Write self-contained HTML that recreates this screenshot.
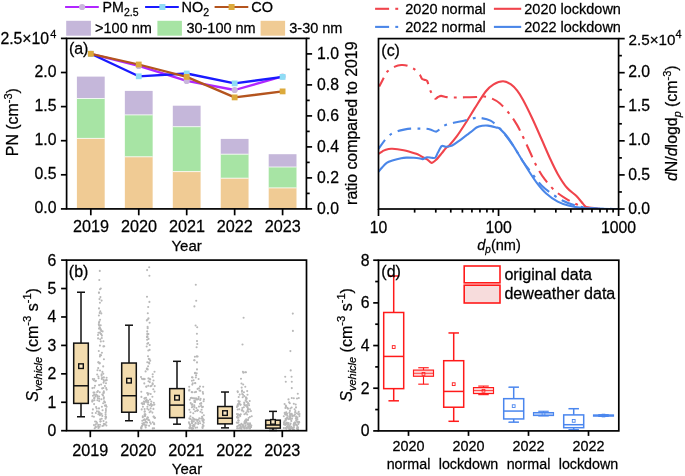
<!DOCTYPE html>
<html><head><meta charset="utf-8"><style>
html,body{margin:0;padding:0;background:#fff;}
svg{display:block;font-family:"Liberation Sans", sans-serif;will-change:transform;}
text{fill:#000;stroke:#000;stroke-width:0.25px;}
</style></head><body>
<svg width="685" height="476" viewBox="0 0 685 476">
<rect width="685" height="476" fill="#fff"/>
<rect x="76.90" y="76.6" width="27.8" height="21.90" fill="#c5b7da"/>
<rect x="76.90" y="98.5" width="27.8" height="39.90" fill="#a7e4a4"/>
<rect x="76.90" y="138.4" width="27.8" height="70.50" fill="#f0cb94"/>
<line x1="76.90" y1="98.50" x2="104.70" y2="98.50" stroke="#fff" stroke-width="0.9" opacity="0.85"/>
<line x1="76.90" y1="138.40" x2="104.70" y2="138.40" stroke="#fff" stroke-width="0.9" opacity="0.85"/>
<rect x="124.85" y="90.9" width="27.8" height="24.00" fill="#c5b7da"/>
<rect x="124.85" y="114.9" width="27.8" height="41.90" fill="#a7e4a4"/>
<rect x="124.85" y="156.8" width="27.8" height="52.10" fill="#f0cb94"/>
<line x1="124.85" y1="114.90" x2="152.65" y2="114.90" stroke="#fff" stroke-width="0.9" opacity="0.85"/>
<line x1="124.85" y1="156.80" x2="152.65" y2="156.80" stroke="#fff" stroke-width="0.9" opacity="0.85"/>
<rect x="172.80" y="105.7" width="27.8" height="21.00" fill="#c5b7da"/>
<rect x="172.80" y="126.7" width="27.8" height="44.90" fill="#a7e4a4"/>
<rect x="172.80" y="171.6" width="27.8" height="37.30" fill="#f0cb94"/>
<line x1="172.80" y1="126.70" x2="200.60" y2="126.70" stroke="#fff" stroke-width="0.9" opacity="0.85"/>
<line x1="172.80" y1="171.60" x2="200.60" y2="171.60" stroke="#fff" stroke-width="0.9" opacity="0.85"/>
<rect x="220.75" y="138.9" width="27.8" height="15.30" fill="#c5b7da"/>
<rect x="220.75" y="154.2" width="27.8" height="24.00" fill="#a7e4a4"/>
<rect x="220.75" y="178.2" width="27.8" height="30.70" fill="#f0cb94"/>
<line x1="220.75" y1="154.20" x2="248.55" y2="154.20" stroke="#fff" stroke-width="0.9" opacity="0.85"/>
<line x1="220.75" y1="178.20" x2="248.55" y2="178.20" stroke="#fff" stroke-width="0.9" opacity="0.85"/>
<rect x="268.70" y="154.2" width="27.8" height="12.80" fill="#c5b7da"/>
<rect x="268.70" y="167.0" width="27.8" height="20.90" fill="#a7e4a4"/>
<rect x="268.70" y="187.9" width="27.8" height="21.00" fill="#f0cb94"/>
<line x1="268.70" y1="167.00" x2="296.50" y2="167.00" stroke="#fff" stroke-width="0.9" opacity="0.85"/>
<line x1="268.70" y1="187.90" x2="296.50" y2="187.90" stroke="#fff" stroke-width="0.9" opacity="0.85"/>
<polyline points="90.80,53.8 138.75,65.9 186.70,80.9 234.65,90.0 282.60,76.5" fill="none" stroke="#b026ff" stroke-width="2.3" stroke-linejoin="round"/>
<circle cx="90.80" cy="53.8" r="3.1" fill="#c9b6dc"/>
<circle cx="138.75" cy="65.9" r="3.1" fill="#c9b6dc"/>
<circle cx="186.70" cy="80.9" r="3.1" fill="#c9b6dc"/>
<circle cx="234.65" cy="90.0" r="3.1" fill="#c9b6dc"/>
<circle cx="282.60" cy="76.5" r="3.1" fill="#c9b6dc"/>
<polyline points="90.80,53.8 138.75,76.3 186.70,73.5 234.65,83.4 282.60,76.9" fill="none" stroke="#1a1aff" stroke-width="2.3" stroke-linejoin="round"/>
<rect x="87.90" y="50.90" width="5.8" height="5.8" fill="#8fdcf5"/>
<rect x="135.85" y="73.40" width="5.8" height="5.8" fill="#8fdcf5"/>
<rect x="183.80" y="70.60" width="5.8" height="5.8" fill="#8fdcf5"/>
<rect x="231.75" y="80.50" width="5.8" height="5.8" fill="#8fdcf5"/>
<rect x="279.70" y="74.00" width="5.8" height="5.8" fill="#8fdcf5"/>
<polyline points="90.80,53.8 138.75,64.5 186.70,76.9 234.65,97.4 282.60,91.4" fill="none" stroke="#b4541e" stroke-width="2.3" stroke-linejoin="round"/>
<rect x="87.90" y="50.90" width="5.8" height="5.8" fill="#dcaa3c"/>
<rect x="135.85" y="61.60" width="5.8" height="5.8" fill="#dcaa3c"/>
<rect x="183.80" y="74.00" width="5.8" height="5.8" fill="#dcaa3c"/>
<rect x="231.75" y="94.50" width="5.8" height="5.8" fill="#dcaa3c"/>
<rect x="279.70" y="88.50" width="5.8" height="5.8" fill="#dcaa3c"/>
<rect x="66.6" y="38.4" width="239.80" height="170.50" fill="none" stroke="#000" stroke-width="1.7"/>
<line x1="60.90" y1="208.90" x2="66.60" y2="208.90" stroke="#000" stroke-width="1.7" />
<text transform="translate(56.50,213.40) scale(1,1.02)" font-size="15.8" text-anchor="end" >0.0</text>
<line x1="60.90" y1="174.80" x2="66.60" y2="174.80" stroke="#000" stroke-width="1.7" />
<text transform="translate(56.50,179.30) scale(1,1.02)" font-size="15.8" text-anchor="end" >0.5</text>
<line x1="60.90" y1="140.70" x2="66.60" y2="140.70" stroke="#000" stroke-width="1.7" />
<text transform="translate(56.50,145.20) scale(1,1.02)" font-size="15.8" text-anchor="end" >1.0</text>
<line x1="60.90" y1="106.60" x2="66.60" y2="106.60" stroke="#000" stroke-width="1.7" />
<text transform="translate(56.50,111.10) scale(1,1.02)" font-size="15.8" text-anchor="end" >1.5</text>
<line x1="60.90" y1="72.50" x2="66.60" y2="72.50" stroke="#000" stroke-width="1.7" />
<text transform="translate(56.50,77.00) scale(1,1.02)" font-size="15.8" text-anchor="end" >2.0</text>
<line x1="60.90" y1="38.40" x2="66.60" y2="38.40" stroke="#000" stroke-width="1.7" />
<text transform="translate(49.10,44.30) scale(1,1.02)" font-size="15.8" text-anchor="end" >2.5×10</text>
<text transform="translate(50.30,37.60) scale(1,1.02)" font-size="11" text-anchor="start" >4</text>
<line x1="306.40" y1="208.90" x2="312.10" y2="208.90" stroke="#000" stroke-width="1.7" />
<text transform="translate(317.00,214.00) scale(1,1.02)" font-size="15.8" text-anchor="start" >0.0</text>
<line x1="306.40" y1="193.40" x2="309.70" y2="193.40" stroke="#000" stroke-width="1.7" />
<line x1="306.40" y1="177.90" x2="312.10" y2="177.90" stroke="#000" stroke-width="1.7" />
<text transform="translate(317.00,183.00) scale(1,1.02)" font-size="15.8" text-anchor="start" >0.2</text>
<line x1="306.40" y1="162.40" x2="309.70" y2="162.40" stroke="#000" stroke-width="1.7" />
<line x1="306.40" y1="146.90" x2="312.10" y2="146.90" stroke="#000" stroke-width="1.7" />
<text transform="translate(317.00,152.00) scale(1,1.02)" font-size="15.8" text-anchor="start" >0.4</text>
<line x1="306.40" y1="131.40" x2="309.70" y2="131.40" stroke="#000" stroke-width="1.7" />
<line x1="306.40" y1="115.90" x2="312.10" y2="115.90" stroke="#000" stroke-width="1.7" />
<text transform="translate(317.00,121.00) scale(1,1.02)" font-size="15.8" text-anchor="start" >0.6</text>
<line x1="306.40" y1="100.40" x2="309.70" y2="100.40" stroke="#000" stroke-width="1.7" />
<line x1="306.40" y1="84.90" x2="312.10" y2="84.90" stroke="#000" stroke-width="1.7" />
<text transform="translate(317.00,90.00) scale(1,1.02)" font-size="15.8" text-anchor="start" >0.8</text>
<line x1="306.40" y1="69.40" x2="309.70" y2="69.40" stroke="#000" stroke-width="1.7" />
<line x1="306.40" y1="53.90" x2="312.10" y2="53.90" stroke="#000" stroke-width="1.7" />
<text transform="translate(317.00,59.00) scale(1,1.02)" font-size="15.8" text-anchor="start" >1.0</text>
<line x1="306.40" y1="38.40" x2="309.70" y2="38.40" stroke="#000" stroke-width="1.7" />
<line x1="90.80" y1="208.90" x2="90.80" y2="215.30" stroke="#000" stroke-width="1.7" />
<text transform="translate(91.00,232.30) scale(1,1.02)" font-size="16.2" text-anchor="middle" >2019</text>
<line x1="138.75" y1="208.90" x2="138.75" y2="215.30" stroke="#000" stroke-width="1.7" />
<text transform="translate(138.95,232.30) scale(1,1.02)" font-size="16.2" text-anchor="middle" >2020</text>
<line x1="186.70" y1="208.90" x2="186.70" y2="215.30" stroke="#000" stroke-width="1.7" />
<text transform="translate(186.90,232.30) scale(1,1.02)" font-size="16.2" text-anchor="middle" >2021</text>
<line x1="234.65" y1="208.90" x2="234.65" y2="215.30" stroke="#000" stroke-width="1.7" />
<text transform="translate(234.85,232.30) scale(1,1.02)" font-size="16.2" text-anchor="middle" >2022</text>
<line x1="282.60" y1="208.90" x2="282.60" y2="215.30" stroke="#000" stroke-width="1.7" />
<text transform="translate(282.80,232.30) scale(1,1.02)" font-size="16.2" text-anchor="middle" >2023</text>
<text transform="translate(186.60,251.20) scale(1,1.02)" font-size="15.0" text-anchor="middle" >Year</text>
<text transform="translate(68.90,53.90) scale(1,1.02)" font-size="16" text-anchor="start" >(a)</text>
<text transform="translate(18.2,122.2) rotate(-90) scale(1,1.02)" font-size="15.9" text-anchor="middle">PN (cm<tspan dy="-6" font-size="11">-3</tspan><tspan dy="6">)</tspan></text>
<text transform="translate(356.9,123.2) rotate(-90) scale(1,1.02)" font-size="15.9" text-anchor="middle">ratio compared to 2019</text>
<line x1="65.10" y1="7.00" x2="98.80" y2="7.00" stroke="#b026ff" stroke-width="2.1" />
<circle cx="82.10" cy="7.0" r="3.1" fill="#c9b6dc"/>
<text transform="translate(102.60,11.90) scale(1,1.02)" font-size="14.2" text-anchor="start" >PM<tspan dy="4" font-size="10.5">2.5</tspan></text>
<line x1="145.10" y1="7.00" x2="178.80" y2="7.00" stroke="#1a1aff" stroke-width="2.1" />
<rect x="159.40" y="4.00" width="6" height="6" fill="#8fdcf5"/>
<text transform="translate(181.50,11.90) scale(1,1.02)" font-size="14.5" text-anchor="start" >NO<tspan dy="4" font-size="10.5">2</tspan></text>
<line x1="214.60" y1="7.00" x2="248.30" y2="7.00" stroke="#b4541e" stroke-width="2.1" />
<rect x="228.60" y="4.00" width="6" height="6" fill="#dcaa3c"/>
<text transform="translate(251.30,11.90) scale(1,1.02)" font-size="14.5" text-anchor="start" >CO</text>
<rect x="66.2" y="20.8" width="24.70" height="14.9" fill="#c5b7da"/>
<text transform="translate(95.10,32.80) scale(1,1.02)" font-size="14.5" text-anchor="start" >&gt;100 nm</text>
<rect x="157.4" y="20.8" width="24.50" height="14.9" fill="#a7e4a4"/>
<text transform="translate(186.40,32.80) scale(1,1.02)" font-size="14.5" text-anchor="start" >30-100 nm</text>
<rect x="260.6" y="20.8" width="24.50" height="14.9" fill="#f0cb94"/>
<text transform="translate(289.30,32.80) scale(1,1.02)" font-size="14.5" text-anchor="start" >3-30 nm</text>
<circle cx="99.8" cy="270.9" r="1.05" fill="#b8b8b8"/>
<circle cx="99.3" cy="280.0" r="1.05" fill="#b8b8b8"/>
<circle cx="100.8" cy="288.5" r="1.05" fill="#b8b8b8"/>
<circle cx="99.0" cy="292.8" r="1.05" fill="#b8b8b8"/>
<circle cx="100.4" cy="297.1" r="1.05" fill="#b8b8b8"/>
<circle cx="99.9" cy="302.8" r="1.05" fill="#b8b8b8"/>
<circle cx="99.0" cy="308.4" r="1.05" fill="#b8b8b8"/>
<circle cx="100.3" cy="311.3" r="1.05" fill="#b8b8b8"/>
<circle cx="98.9" cy="315.5" r="1.05" fill="#b8b8b8"/>
<circle cx="100.1" cy="319.8" r="1.05" fill="#b8b8b8"/>
<circle cx="99.0" cy="322.7" r="1.05" fill="#b8b8b8"/>
<circle cx="99.1" cy="325.5" r="1.05" fill="#b8b8b8"/>
<circle cx="100.1" cy="328.3" r="1.05" fill="#b8b8b8"/>
<circle cx="101.3" cy="313.4" r="1.05" fill="#b8b8b8"/>
<circle cx="99.5" cy="299.1" r="1.05" fill="#b8b8b8"/>
<circle cx="101.6" cy="300.6" r="1.05" fill="#b8b8b8"/>
<circle cx="100.0" cy="289.2" r="1.05" fill="#b8b8b8"/>
<circle cx="98.9" cy="292.6" r="1.05" fill="#b8b8b8"/>
<circle cx="99.7" cy="312.9" r="1.05" fill="#b8b8b8"/>
<circle cx="98.4" cy="332.7" r="1.05" fill="#b8b8b8"/>
<circle cx="101.9" cy="335.6" r="1.05" fill="#b8b8b8"/>
<circle cx="100.7" cy="325.2" r="1.05" fill="#b8b8b8"/>
<circle cx="99.7" cy="327.3" r="1.05" fill="#b8b8b8"/>
<circle cx="98.1" cy="338.4" r="1.05" fill="#b8b8b8"/>
<circle cx="98.8" cy="324.2" r="1.05" fill="#b8b8b8"/>
<circle cx="99.9" cy="332.6" r="1.05" fill="#b8b8b8"/>
<circle cx="100.7" cy="329.4" r="1.05" fill="#b8b8b8"/>
<circle cx="99.3" cy="321.6" r="1.05" fill="#b8b8b8"/>
<circle cx="101.3" cy="334.2" r="1.05" fill="#b8b8b8"/>
<circle cx="100.7" cy="333.7" r="1.05" fill="#b8b8b8"/>
<circle cx="102.6" cy="331.4" r="1.05" fill="#b8b8b8"/>
<circle cx="99.0" cy="328.6" r="1.05" fill="#b8b8b8"/>
<circle cx="98.0" cy="335.0" r="1.05" fill="#b8b8b8"/>
<circle cx="101.8" cy="338.0" r="1.05" fill="#b8b8b8"/>
<circle cx="100.2" cy="339.3" r="1.05" fill="#b8b8b8"/>
<circle cx="101.3" cy="331.0" r="1.05" fill="#b8b8b8"/>
<circle cx="100.7" cy="329.8" r="1.05" fill="#b8b8b8"/>
<circle cx="98.8" cy="351.0" r="1.05" fill="#b8b8b8"/>
<circle cx="101.1" cy="355.2" r="1.05" fill="#b8b8b8"/>
<circle cx="99.9" cy="345.6" r="1.05" fill="#b8b8b8"/>
<circle cx="103.9" cy="359.2" r="1.05" fill="#b8b8b8"/>
<circle cx="101.6" cy="374.4" r="1.05" fill="#b8b8b8"/>
<circle cx="101.9" cy="352.8" r="1.05" fill="#b8b8b8"/>
<circle cx="104.2" cy="346.3" r="1.05" fill="#b8b8b8"/>
<circle cx="98.6" cy="362.4" r="1.05" fill="#b8b8b8"/>
<circle cx="101.6" cy="375.8" r="1.05" fill="#b8b8b8"/>
<circle cx="100.0" cy="370.5" r="1.05" fill="#b8b8b8"/>
<circle cx="97.2" cy="374.5" r="1.05" fill="#b8b8b8"/>
<circle cx="102.4" cy="371.9" r="1.05" fill="#b8b8b8"/>
<circle cx="98.3" cy="362.2" r="1.05" fill="#b8b8b8"/>
<circle cx="103.3" cy="373.7" r="1.05" fill="#b8b8b8"/>
<circle cx="99.9" cy="356.4" r="1.05" fill="#b8b8b8"/>
<circle cx="103.4" cy="346.4" r="1.05" fill="#b8b8b8"/>
<circle cx="103.2" cy="366.4" r="1.05" fill="#b8b8b8"/>
<circle cx="99.6" cy="363.4" r="1.05" fill="#b8b8b8"/>
<circle cx="103.4" cy="341.3" r="1.05" fill="#b8b8b8"/>
<circle cx="97.5" cy="370.2" r="1.05" fill="#b8b8b8"/>
<circle cx="98.2" cy="368.1" r="1.05" fill="#b8b8b8"/>
<circle cx="100.2" cy="354.9" r="1.05" fill="#b8b8b8"/>
<circle cx="98.4" cy="376.5" r="1.05" fill="#b8b8b8"/>
<circle cx="99.7" cy="363.0" r="1.05" fill="#b8b8b8"/>
<circle cx="100.8" cy="341.4" r="1.05" fill="#b8b8b8"/>
<circle cx="102.2" cy="388.4" r="1.05" fill="#b8b8b8"/>
<circle cx="101.1" cy="384.5" r="1.05" fill="#b8b8b8"/>
<circle cx="92.8" cy="379.1" r="1.05" fill="#b8b8b8"/>
<circle cx="103.5" cy="379.7" r="1.05" fill="#b8b8b8"/>
<circle cx="103.8" cy="391.4" r="1.05" fill="#b8b8b8"/>
<circle cx="97.9" cy="398.3" r="1.05" fill="#b8b8b8"/>
<circle cx="101.4" cy="399.3" r="1.05" fill="#b8b8b8"/>
<circle cx="93.0" cy="395.8" r="1.05" fill="#b8b8b8"/>
<circle cx="94.4" cy="392.6" r="1.05" fill="#b8b8b8"/>
<circle cx="92.8" cy="400.8" r="1.05" fill="#b8b8b8"/>
<circle cx="94.2" cy="398.4" r="1.05" fill="#b8b8b8"/>
<circle cx="97.4" cy="400.2" r="1.05" fill="#b8b8b8"/>
<circle cx="104.9" cy="386.0" r="1.05" fill="#b8b8b8"/>
<circle cx="94.2" cy="394.7" r="1.05" fill="#b8b8b8"/>
<circle cx="97.1" cy="392.0" r="1.05" fill="#b8b8b8"/>
<circle cx="93.8" cy="380.3" r="1.05" fill="#b8b8b8"/>
<circle cx="106.7" cy="389.6" r="1.05" fill="#b8b8b8"/>
<circle cx="99.2" cy="398.8" r="1.05" fill="#b8b8b8"/>
<circle cx="93.5" cy="392.6" r="1.05" fill="#b8b8b8"/>
<circle cx="95.9" cy="380.8" r="1.05" fill="#b8b8b8"/>
<circle cx="94.4" cy="400.3" r="1.05" fill="#b8b8b8"/>
<circle cx="106.1" cy="388.1" r="1.05" fill="#b8b8b8"/>
<circle cx="94.2" cy="387.7" r="1.05" fill="#b8b8b8"/>
<circle cx="92.4" cy="388.1" r="1.05" fill="#b8b8b8"/>
<circle cx="106.5" cy="380.0" r="1.05" fill="#b8b8b8"/>
<circle cx="102.3" cy="394.5" r="1.05" fill="#b8b8b8"/>
<circle cx="97.4" cy="396.8" r="1.05" fill="#b8b8b8"/>
<circle cx="103.4" cy="388.0" r="1.05" fill="#b8b8b8"/>
<circle cx="103.5" cy="392.9" r="1.05" fill="#b8b8b8"/>
<circle cx="95.3" cy="381.2" r="1.05" fill="#b8b8b8"/>
<circle cx="106.6" cy="380.2" r="1.05" fill="#b8b8b8"/>
<circle cx="103.9" cy="381.1" r="1.05" fill="#b8b8b8"/>
<circle cx="103.0" cy="395.4" r="1.05" fill="#b8b8b8"/>
<circle cx="99.7" cy="392.3" r="1.05" fill="#b8b8b8"/>
<circle cx="92.4" cy="400.2" r="1.05" fill="#b8b8b8"/>
<circle cx="96.1" cy="394.6" r="1.05" fill="#b8b8b8"/>
<circle cx="102.2" cy="377.7" r="1.05" fill="#b8b8b8"/>
<circle cx="98.6" cy="378.2" r="1.05" fill="#b8b8b8"/>
<circle cx="106.6" cy="377.8" r="1.05" fill="#b8b8b8"/>
<circle cx="97.4" cy="395.5" r="1.05" fill="#b8b8b8"/>
<circle cx="95.4" cy="396.1" r="1.05" fill="#b8b8b8"/>
<circle cx="95.0" cy="385.8" r="1.05" fill="#b8b8b8"/>
<circle cx="105.3" cy="380.5" r="1.05" fill="#b8b8b8"/>
<circle cx="99.1" cy="385.1" r="1.05" fill="#b8b8b8"/>
<circle cx="103.8" cy="398.8" r="1.05" fill="#b8b8b8"/>
<circle cx="101.8" cy="378.9" r="1.05" fill="#b8b8b8"/>
<circle cx="103.6" cy="382.7" r="1.05" fill="#b8b8b8"/>
<circle cx="99.1" cy="396.5" r="1.05" fill="#b8b8b8"/>
<circle cx="103.7" cy="392.8" r="1.05" fill="#b8b8b8"/>
<circle cx="103.9" cy="377.4" r="1.05" fill="#b8b8b8"/>
<circle cx="97.9" cy="391.1" r="1.05" fill="#b8b8b8"/>
<circle cx="106.0" cy="383.3" r="1.05" fill="#b8b8b8"/>
<circle cx="94.5" cy="397.8" r="1.05" fill="#b8b8b8"/>
<circle cx="94.2" cy="379.0" r="1.05" fill="#b8b8b8"/>
<circle cx="103.9" cy="397.3" r="1.05" fill="#b8b8b8"/>
<circle cx="104.2" cy="401.4" r="1.05" fill="#b8b8b8"/>
<circle cx="101.7" cy="418.8" r="1.05" fill="#b8b8b8"/>
<circle cx="100.1" cy="424.8" r="1.05" fill="#b8b8b8"/>
<circle cx="92.2" cy="401.6" r="1.05" fill="#b8b8b8"/>
<circle cx="101.6" cy="413.9" r="1.05" fill="#b8b8b8"/>
<circle cx="105.8" cy="416.5" r="1.05" fill="#b8b8b8"/>
<circle cx="104.9" cy="405.6" r="1.05" fill="#b8b8b8"/>
<circle cx="95.1" cy="421.5" r="1.05" fill="#b8b8b8"/>
<circle cx="96.3" cy="421.8" r="1.05" fill="#b8b8b8"/>
<circle cx="100.7" cy="421.3" r="1.05" fill="#b8b8b8"/>
<circle cx="98.2" cy="424.8" r="1.05" fill="#b8b8b8"/>
<circle cx="105.5" cy="418.7" r="1.05" fill="#b8b8b8"/>
<circle cx="98.8" cy="412.3" r="1.05" fill="#b8b8b8"/>
<circle cx="105.4" cy="416.8" r="1.05" fill="#b8b8b8"/>
<circle cx="105.6" cy="414.6" r="1.05" fill="#b8b8b8"/>
<circle cx="99.9" cy="414.0" r="1.05" fill="#b8b8b8"/>
<circle cx="92.3" cy="416.3" r="1.05" fill="#b8b8b8"/>
<circle cx="94.7" cy="428.3" r="1.05" fill="#b8b8b8"/>
<circle cx="103.8" cy="423.7" r="1.05" fill="#b8b8b8"/>
<circle cx="99.0" cy="408.4" r="1.05" fill="#b8b8b8"/>
<circle cx="100.2" cy="419.4" r="1.05" fill="#b8b8b8"/>
<circle cx="99.7" cy="413.1" r="1.05" fill="#b8b8b8"/>
<circle cx="103.6" cy="425.5" r="1.05" fill="#b8b8b8"/>
<circle cx="100.3" cy="421.6" r="1.05" fill="#b8b8b8"/>
<circle cx="96.1" cy="407.1" r="1.05" fill="#b8b8b8"/>
<circle cx="99.5" cy="412.9" r="1.05" fill="#b8b8b8"/>
<circle cx="103.2" cy="403.3" r="1.05" fill="#b8b8b8"/>
<circle cx="98.6" cy="411.5" r="1.05" fill="#b8b8b8"/>
<circle cx="99.5" cy="414.3" r="1.05" fill="#b8b8b8"/>
<circle cx="102.3" cy="415.9" r="1.05" fill="#b8b8b8"/>
<circle cx="99.9" cy="415.2" r="1.05" fill="#b8b8b8"/>
<circle cx="105.9" cy="409.1" r="1.05" fill="#b8b8b8"/>
<circle cx="105.0" cy="402.4" r="1.05" fill="#b8b8b8"/>
<circle cx="95.8" cy="413.0" r="1.05" fill="#b8b8b8"/>
<circle cx="106.0" cy="405.3" r="1.05" fill="#b8b8b8"/>
<circle cx="94.0" cy="425.1" r="1.05" fill="#b8b8b8"/>
<circle cx="98.5" cy="426.4" r="1.05" fill="#b8b8b8"/>
<circle cx="95.6" cy="426.4" r="1.05" fill="#b8b8b8"/>
<circle cx="101.9" cy="406.8" r="1.05" fill="#b8b8b8"/>
<circle cx="105.3" cy="424.2" r="1.05" fill="#b8b8b8"/>
<circle cx="102.6" cy="410.2" r="1.05" fill="#b8b8b8"/>
<circle cx="94.1" cy="404.1" r="1.05" fill="#b8b8b8"/>
<circle cx="106.3" cy="422.4" r="1.05" fill="#b8b8b8"/>
<circle cx="106.1" cy="417.4" r="1.05" fill="#b8b8b8"/>
<circle cx="99.2" cy="401.1" r="1.05" fill="#b8b8b8"/>
<circle cx="104.3" cy="424.0" r="1.05" fill="#b8b8b8"/>
<circle cx="98.4" cy="414.2" r="1.05" fill="#b8b8b8"/>
<circle cx="97.0" cy="423.0" r="1.05" fill="#b8b8b8"/>
<circle cx="96.7" cy="408.5" r="1.05" fill="#b8b8b8"/>
<circle cx="92.3" cy="413.1" r="1.05" fill="#b8b8b8"/>
<circle cx="98.5" cy="427.9" r="1.05" fill="#b8b8b8"/>
<circle cx="96.9" cy="411.2" r="1.05" fill="#b8b8b8"/>
<circle cx="99.6" cy="426.7" r="1.05" fill="#b8b8b8"/>
<circle cx="106.6" cy="406.7" r="1.05" fill="#b8b8b8"/>
<circle cx="106.4" cy="425.5" r="1.05" fill="#b8b8b8"/>
<circle cx="95.9" cy="427.3" r="1.05" fill="#b8b8b8"/>
<circle cx="103.5" cy="421.0" r="1.05" fill="#b8b8b8"/>
<circle cx="93.9" cy="416.8" r="1.05" fill="#b8b8b8"/>
<circle cx="105.5" cy="405.8" r="1.05" fill="#b8b8b8"/>
<circle cx="95.8" cy="424.3" r="1.05" fill="#b8b8b8"/>
<circle cx="105.6" cy="412.7" r="1.05" fill="#b8b8b8"/>
<circle cx="102.4" cy="426.0" r="1.05" fill="#b8b8b8"/>
<circle cx="92.9" cy="409.4" r="1.05" fill="#b8b8b8"/>
<circle cx="98.3" cy="426.4" r="1.05" fill="#b8b8b8"/>
<circle cx="105.9" cy="410.9" r="1.05" fill="#b8b8b8"/>
<circle cx="149.2" cy="267.2" r="1.05" fill="#b8b8b8"/>
<circle cx="147.1" cy="270.1" r="1.05" fill="#b8b8b8"/>
<circle cx="149.4" cy="275.7" r="1.05" fill="#b8b8b8"/>
<circle cx="147.0" cy="296.8" r="1.05" fill="#b8b8b8"/>
<circle cx="149.4" cy="301.9" r="1.05" fill="#b8b8b8"/>
<circle cx="148.2" cy="307.0" r="1.05" fill="#b8b8b8"/>
<circle cx="147.8" cy="313.3" r="1.05" fill="#b8b8b8"/>
<circle cx="148.5" cy="318.4" r="1.05" fill="#b8b8b8"/>
<circle cx="149.6" cy="322.7" r="1.05" fill="#b8b8b8"/>
<circle cx="147.6" cy="326.9" r="1.05" fill="#b8b8b8"/>
<circle cx="147.2" cy="331.2" r="1.05" fill="#b8b8b8"/>
<circle cx="148.4" cy="334.0" r="1.05" fill="#b8b8b8"/>
<circle cx="147.5" cy="336.9" r="1.05" fill="#b8b8b8"/>
<circle cx="147.1" cy="339.7" r="1.05" fill="#b8b8b8"/>
<circle cx="147.3" cy="343.7" r="1.05" fill="#b8b8b8"/>
<circle cx="147.4" cy="334.8" r="1.05" fill="#b8b8b8"/>
<circle cx="147.7" cy="319.5" r="1.05" fill="#b8b8b8"/>
<circle cx="147.7" cy="328.3" r="1.05" fill="#b8b8b8"/>
<circle cx="147.3" cy="333.6" r="1.05" fill="#b8b8b8"/>
<circle cx="146.9" cy="336.9" r="1.05" fill="#b8b8b8"/>
<circle cx="146.8" cy="320.4" r="1.05" fill="#b8b8b8"/>
<circle cx="148.5" cy="338.9" r="1.05" fill="#b8b8b8"/>
<circle cx="148.2" cy="343.1" r="1.05" fill="#b8b8b8"/>
<circle cx="146.7" cy="346.5" r="1.05" fill="#b8b8b8"/>
<circle cx="148.0" cy="356.2" r="1.05" fill="#b8b8b8"/>
<circle cx="149.6" cy="359.3" r="1.05" fill="#b8b8b8"/>
<circle cx="148.3" cy="350.5" r="1.05" fill="#b8b8b8"/>
<circle cx="150.2" cy="360.8" r="1.05" fill="#b8b8b8"/>
<circle cx="149.6" cy="349.9" r="1.05" fill="#b8b8b8"/>
<circle cx="148.8" cy="358.9" r="1.05" fill="#b8b8b8"/>
<circle cx="147.7" cy="369.4" r="1.05" fill="#b8b8b8"/>
<circle cx="146.8" cy="368.9" r="1.05" fill="#b8b8b8"/>
<circle cx="149.3" cy="363.4" r="1.05" fill="#b8b8b8"/>
<circle cx="147.0" cy="368.5" r="1.05" fill="#b8b8b8"/>
<circle cx="149.7" cy="345.0" r="1.05" fill="#b8b8b8"/>
<circle cx="149.0" cy="362.6" r="1.05" fill="#b8b8b8"/>
<circle cx="147.3" cy="362.2" r="1.05" fill="#b8b8b8"/>
<circle cx="148.1" cy="366.3" r="1.05" fill="#b8b8b8"/>
<circle cx="147.2" cy="393.0" r="1.05" fill="#b8b8b8"/>
<circle cx="154.5" cy="371.8" r="1.05" fill="#b8b8b8"/>
<circle cx="148.7" cy="393.5" r="1.05" fill="#b8b8b8"/>
<circle cx="154.5" cy="391.6" r="1.05" fill="#b8b8b8"/>
<circle cx="146.0" cy="400.8" r="1.05" fill="#b8b8b8"/>
<circle cx="146.3" cy="386.7" r="1.05" fill="#b8b8b8"/>
<circle cx="148.0" cy="394.8" r="1.05" fill="#b8b8b8"/>
<circle cx="148.1" cy="400.7" r="1.05" fill="#b8b8b8"/>
<circle cx="144.7" cy="398.2" r="1.05" fill="#b8b8b8"/>
<circle cx="146.6" cy="399.6" r="1.05" fill="#b8b8b8"/>
<circle cx="141.3" cy="391.8" r="1.05" fill="#b8b8b8"/>
<circle cx="144.3" cy="383.4" r="1.05" fill="#b8b8b8"/>
<circle cx="148.4" cy="378.4" r="1.05" fill="#b8b8b8"/>
<circle cx="150.2" cy="379.5" r="1.05" fill="#b8b8b8"/>
<circle cx="153.3" cy="389.2" r="1.05" fill="#b8b8b8"/>
<circle cx="145.6" cy="371.4" r="1.05" fill="#b8b8b8"/>
<circle cx="143.1" cy="379.2" r="1.05" fill="#b8b8b8"/>
<circle cx="150.0" cy="399.5" r="1.05" fill="#b8b8b8"/>
<circle cx="152.7" cy="374.2" r="1.05" fill="#b8b8b8"/>
<circle cx="149.8" cy="378.9" r="1.05" fill="#b8b8b8"/>
<circle cx="152.4" cy="396.7" r="1.05" fill="#b8b8b8"/>
<circle cx="148.3" cy="385.8" r="1.05" fill="#b8b8b8"/>
<circle cx="152.7" cy="376.8" r="1.05" fill="#b8b8b8"/>
<circle cx="152.6" cy="383.4" r="1.05" fill="#b8b8b8"/>
<circle cx="153.5" cy="380.5" r="1.05" fill="#b8b8b8"/>
<circle cx="150.7" cy="394.0" r="1.05" fill="#b8b8b8"/>
<circle cx="141.4" cy="396.9" r="1.05" fill="#b8b8b8"/>
<circle cx="146.0" cy="397.7" r="1.05" fill="#b8b8b8"/>
<circle cx="152.7" cy="384.2" r="1.05" fill="#b8b8b8"/>
<circle cx="149.8" cy="382.1" r="1.05" fill="#b8b8b8"/>
<circle cx="150.5" cy="386.2" r="1.05" fill="#b8b8b8"/>
<circle cx="141.0" cy="377.0" r="1.05" fill="#b8b8b8"/>
<circle cx="151.5" cy="385.8" r="1.05" fill="#b8b8b8"/>
<circle cx="148.5" cy="381.2" r="1.05" fill="#b8b8b8"/>
<circle cx="141.9" cy="378.8" r="1.05" fill="#b8b8b8"/>
<circle cx="144.5" cy="398.6" r="1.05" fill="#b8b8b8"/>
<circle cx="144.7" cy="379.1" r="1.05" fill="#b8b8b8"/>
<circle cx="143.9" cy="378.8" r="1.05" fill="#b8b8b8"/>
<circle cx="154.7" cy="386.1" r="1.05" fill="#b8b8b8"/>
<circle cx="146.4" cy="386.5" r="1.05" fill="#b8b8b8"/>
<circle cx="150.6" cy="408.4" r="1.05" fill="#b8b8b8"/>
<circle cx="149.6" cy="412.2" r="1.05" fill="#b8b8b8"/>
<circle cx="142.1" cy="425.7" r="1.05" fill="#b8b8b8"/>
<circle cx="144.6" cy="409.1" r="1.05" fill="#b8b8b8"/>
<circle cx="145.3" cy="414.4" r="1.05" fill="#b8b8b8"/>
<circle cx="141.2" cy="427.5" r="1.05" fill="#b8b8b8"/>
<circle cx="144.8" cy="411.3" r="1.05" fill="#b8b8b8"/>
<circle cx="150.7" cy="411.2" r="1.05" fill="#b8b8b8"/>
<circle cx="145.1" cy="415.9" r="1.05" fill="#b8b8b8"/>
<circle cx="147.5" cy="417.4" r="1.05" fill="#b8b8b8"/>
<circle cx="142.7" cy="404.3" r="1.05" fill="#b8b8b8"/>
<circle cx="143.8" cy="401.6" r="1.05" fill="#b8b8b8"/>
<circle cx="154.1" cy="428.2" r="1.05" fill="#b8b8b8"/>
<circle cx="147.4" cy="406.7" r="1.05" fill="#b8b8b8"/>
<circle cx="154.6" cy="417.9" r="1.05" fill="#b8b8b8"/>
<circle cx="144.8" cy="424.2" r="1.05" fill="#b8b8b8"/>
<circle cx="154.2" cy="424.2" r="1.05" fill="#b8b8b8"/>
<circle cx="149.1" cy="425.8" r="1.05" fill="#b8b8b8"/>
<circle cx="148.3" cy="402.4" r="1.05" fill="#b8b8b8"/>
<circle cx="142.9" cy="406.7" r="1.05" fill="#b8b8b8"/>
<circle cx="148.1" cy="404.5" r="1.05" fill="#b8b8b8"/>
<circle cx="150.8" cy="423.7" r="1.05" fill="#b8b8b8"/>
<circle cx="153.6" cy="416.8" r="1.05" fill="#b8b8b8"/>
<circle cx="141.3" cy="428.4" r="1.05" fill="#b8b8b8"/>
<circle cx="147.9" cy="417.8" r="1.05" fill="#b8b8b8"/>
<circle cx="145.2" cy="425.8" r="1.05" fill="#b8b8b8"/>
<circle cx="145.8" cy="421.5" r="1.05" fill="#b8b8b8"/>
<circle cx="152.8" cy="428.4" r="1.05" fill="#b8b8b8"/>
<circle cx="151.5" cy="406.1" r="1.05" fill="#b8b8b8"/>
<circle cx="142.7" cy="403.3" r="1.05" fill="#b8b8b8"/>
<circle cx="151.0" cy="404.1" r="1.05" fill="#b8b8b8"/>
<circle cx="145.1" cy="420.0" r="1.05" fill="#b8b8b8"/>
<circle cx="146.5" cy="400.9" r="1.05" fill="#b8b8b8"/>
<circle cx="149.2" cy="420.3" r="1.05" fill="#b8b8b8"/>
<circle cx="147.0" cy="422.6" r="1.05" fill="#b8b8b8"/>
<circle cx="141.7" cy="426.6" r="1.05" fill="#b8b8b8"/>
<circle cx="152.7" cy="422.3" r="1.05" fill="#b8b8b8"/>
<circle cx="154.1" cy="423.2" r="1.05" fill="#b8b8b8"/>
<circle cx="144.7" cy="416.1" r="1.05" fill="#b8b8b8"/>
<circle cx="143.7" cy="420.0" r="1.05" fill="#b8b8b8"/>
<circle cx="154.4" cy="404.6" r="1.05" fill="#b8b8b8"/>
<circle cx="152.4" cy="412.6" r="1.05" fill="#b8b8b8"/>
<circle cx="153.8" cy="402.8" r="1.05" fill="#b8b8b8"/>
<circle cx="148.7" cy="409.8" r="1.05" fill="#b8b8b8"/>
<circle cx="141.7" cy="409.4" r="1.05" fill="#b8b8b8"/>
<circle cx="147.3" cy="408.8" r="1.05" fill="#b8b8b8"/>
<circle cx="150.0" cy="422.3" r="1.05" fill="#b8b8b8"/>
<circle cx="141.7" cy="403.3" r="1.05" fill="#b8b8b8"/>
<circle cx="142.8" cy="417.2" r="1.05" fill="#b8b8b8"/>
<circle cx="145.8" cy="422.0" r="1.05" fill="#b8b8b8"/>
<circle cx="151.3" cy="401.6" r="1.05" fill="#b8b8b8"/>
<circle cx="144.6" cy="411.8" r="1.05" fill="#b8b8b8"/>
<circle cx="145.2" cy="414.8" r="1.05" fill="#b8b8b8"/>
<circle cx="146.5" cy="425.2" r="1.05" fill="#b8b8b8"/>
<circle cx="143.3" cy="424.2" r="1.05" fill="#b8b8b8"/>
<circle cx="153.7" cy="416.5" r="1.05" fill="#b8b8b8"/>
<circle cx="144.1" cy="403.9" r="1.05" fill="#b8b8b8"/>
<circle cx="155.0" cy="417.8" r="1.05" fill="#b8b8b8"/>
<circle cx="143.0" cy="424.6" r="1.05" fill="#b8b8b8"/>
<circle cx="142.3" cy="420.8" r="1.05" fill="#b8b8b8"/>
<circle cx="142.3" cy="423.5" r="1.05" fill="#b8b8b8"/>
<circle cx="144.6" cy="414.4" r="1.05" fill="#b8b8b8"/>
<circle cx="153.4" cy="408.9" r="1.05" fill="#b8b8b8"/>
<circle cx="146.8" cy="418.9" r="1.05" fill="#b8b8b8"/>
<circle cx="148.3" cy="419.9" r="1.05" fill="#b8b8b8"/>
<circle cx="145.7" cy="427.4" r="1.05" fill="#b8b8b8"/>
<circle cx="144.9" cy="401.9" r="1.05" fill="#b8b8b8"/>
<circle cx="142.8" cy="416.3" r="1.05" fill="#b8b8b8"/>
<circle cx="149.8" cy="405.3" r="1.05" fill="#b8b8b8"/>
<circle cx="144.0" cy="422.7" r="1.05" fill="#b8b8b8"/>
<circle cx="144.5" cy="419.2" r="1.05" fill="#b8b8b8"/>
<circle cx="147.2" cy="402.4" r="1.05" fill="#b8b8b8"/>
<circle cx="152.9" cy="405.0" r="1.05" fill="#b8b8b8"/>
<circle cx="141.3" cy="428.0" r="1.05" fill="#b8b8b8"/>
<circle cx="150.9" cy="404.3" r="1.05" fill="#b8b8b8"/>
<circle cx="195.8" cy="284.8" r="1.05" fill="#b8b8b8"/>
<circle cx="196.2" cy="300.8" r="1.05" fill="#b8b8b8"/>
<circle cx="194.4" cy="306.4" r="1.05" fill="#b8b8b8"/>
<circle cx="195.6" cy="325.5" r="1.05" fill="#b8b8b8"/>
<circle cx="197.2" cy="327.2" r="1.05" fill="#b8b8b8"/>
<circle cx="196.9" cy="333.7" r="1.05" fill="#b8b8b8"/>
<circle cx="197.0" cy="341.1" r="1.05" fill="#b8b8b8"/>
<circle cx="197.3" cy="344.0" r="1.05" fill="#b8b8b8"/>
<circle cx="194.9" cy="373.3" r="1.05" fill="#b8b8b8"/>
<circle cx="194.5" cy="360.3" r="1.05" fill="#b8b8b8"/>
<circle cx="196.6" cy="347.2" r="1.05" fill="#b8b8b8"/>
<circle cx="196.8" cy="356.4" r="1.05" fill="#b8b8b8"/>
<circle cx="197.0" cy="362.4" r="1.05" fill="#b8b8b8"/>
<circle cx="196.1" cy="375.4" r="1.05" fill="#b8b8b8"/>
<circle cx="197.0" cy="369.4" r="1.05" fill="#b8b8b8"/>
<circle cx="197.6" cy="356.5" r="1.05" fill="#b8b8b8"/>
<circle cx="195.1" cy="372.7" r="1.05" fill="#b8b8b8"/>
<circle cx="194.9" cy="356.8" r="1.05" fill="#b8b8b8"/>
<circle cx="196.7" cy="373.2" r="1.05" fill="#b8b8b8"/>
<circle cx="194.2" cy="360.3" r="1.05" fill="#b8b8b8"/>
<circle cx="197.6" cy="388.9" r="1.05" fill="#b8b8b8"/>
<circle cx="192.3" cy="384.6" r="1.05" fill="#b8b8b8"/>
<circle cx="189.1" cy="390.6" r="1.05" fill="#b8b8b8"/>
<circle cx="195.8" cy="377.5" r="1.05" fill="#b8b8b8"/>
<circle cx="198.6" cy="379.0" r="1.05" fill="#b8b8b8"/>
<circle cx="196.0" cy="391.9" r="1.05" fill="#b8b8b8"/>
<circle cx="192.6" cy="377.5" r="1.05" fill="#b8b8b8"/>
<circle cx="199.5" cy="390.5" r="1.05" fill="#b8b8b8"/>
<circle cx="189.2" cy="386.7" r="1.05" fill="#b8b8b8"/>
<circle cx="199.0" cy="388.2" r="1.05" fill="#b8b8b8"/>
<circle cx="192.8" cy="383.3" r="1.05" fill="#b8b8b8"/>
<circle cx="202.8" cy="392.1" r="1.05" fill="#b8b8b8"/>
<circle cx="189.4" cy="389.9" r="1.05" fill="#b8b8b8"/>
<circle cx="195.2" cy="383.0" r="1.05" fill="#b8b8b8"/>
<circle cx="191.9" cy="380.7" r="1.05" fill="#b8b8b8"/>
<circle cx="200.0" cy="386.5" r="1.05" fill="#b8b8b8"/>
<circle cx="192.0" cy="377.3" r="1.05" fill="#b8b8b8"/>
<circle cx="193.6" cy="380.3" r="1.05" fill="#b8b8b8"/>
<circle cx="192.4" cy="392.2" r="1.05" fill="#b8b8b8"/>
<circle cx="200.3" cy="390.7" r="1.05" fill="#b8b8b8"/>
<circle cx="203.2" cy="386.7" r="1.05" fill="#b8b8b8"/>
<circle cx="191.7" cy="392.1" r="1.05" fill="#b8b8b8"/>
<circle cx="195.2" cy="383.3" r="1.05" fill="#b8b8b8"/>
<circle cx="203.1" cy="393.7" r="1.05" fill="#b8b8b8"/>
<circle cx="194.8" cy="392.3" r="1.05" fill="#b8b8b8"/>
<circle cx="203.5" cy="425.9" r="1.05" fill="#b8b8b8"/>
<circle cx="189.7" cy="427.6" r="1.05" fill="#b8b8b8"/>
<circle cx="194.8" cy="400.7" r="1.05" fill="#b8b8b8"/>
<circle cx="202.2" cy="407.2" r="1.05" fill="#b8b8b8"/>
<circle cx="203.9" cy="399.4" r="1.05" fill="#b8b8b8"/>
<circle cx="193.8" cy="424.9" r="1.05" fill="#b8b8b8"/>
<circle cx="202.9" cy="406.7" r="1.05" fill="#b8b8b8"/>
<circle cx="189.4" cy="409.7" r="1.05" fill="#b8b8b8"/>
<circle cx="194.6" cy="419.6" r="1.05" fill="#b8b8b8"/>
<circle cx="193.9" cy="425.3" r="1.05" fill="#b8b8b8"/>
<circle cx="188.9" cy="422.3" r="1.05" fill="#b8b8b8"/>
<circle cx="194.2" cy="398.4" r="1.05" fill="#b8b8b8"/>
<circle cx="190.8" cy="398.1" r="1.05" fill="#b8b8b8"/>
<circle cx="192.0" cy="420.1" r="1.05" fill="#b8b8b8"/>
<circle cx="201.2" cy="403.7" r="1.05" fill="#b8b8b8"/>
<circle cx="195.4" cy="427.8" r="1.05" fill="#b8b8b8"/>
<circle cx="196.0" cy="419.6" r="1.05" fill="#b8b8b8"/>
<circle cx="202.7" cy="424.7" r="1.05" fill="#b8b8b8"/>
<circle cx="194.4" cy="400.8" r="1.05" fill="#b8b8b8"/>
<circle cx="189.4" cy="418.4" r="1.05" fill="#b8b8b8"/>
<circle cx="201.1" cy="405.9" r="1.05" fill="#b8b8b8"/>
<circle cx="189.5" cy="428.0" r="1.05" fill="#b8b8b8"/>
<circle cx="189.8" cy="399.8" r="1.05" fill="#b8b8b8"/>
<circle cx="192.8" cy="406.6" r="1.05" fill="#b8b8b8"/>
<circle cx="202.4" cy="420.6" r="1.05" fill="#b8b8b8"/>
<circle cx="193.0" cy="398.3" r="1.05" fill="#b8b8b8"/>
<circle cx="198.2" cy="422.8" r="1.05" fill="#b8b8b8"/>
<circle cx="199.6" cy="421.3" r="1.05" fill="#b8b8b8"/>
<circle cx="193.0" cy="428.4" r="1.05" fill="#b8b8b8"/>
<circle cx="200.2" cy="400.0" r="1.05" fill="#b8b8b8"/>
<circle cx="198.4" cy="398.9" r="1.05" fill="#b8b8b8"/>
<circle cx="189.3" cy="423.6" r="1.05" fill="#b8b8b8"/>
<circle cx="196.0" cy="398.4" r="1.05" fill="#b8b8b8"/>
<circle cx="203.2" cy="419.2" r="1.05" fill="#b8b8b8"/>
<circle cx="192.7" cy="417.8" r="1.05" fill="#b8b8b8"/>
<circle cx="196.3" cy="399.5" r="1.05" fill="#b8b8b8"/>
<circle cx="191.6" cy="404.5" r="1.05" fill="#b8b8b8"/>
<circle cx="200.0" cy="403.7" r="1.05" fill="#b8b8b8"/>
<circle cx="200.5" cy="411.8" r="1.05" fill="#b8b8b8"/>
<circle cx="193.8" cy="421.2" r="1.05" fill="#b8b8b8"/>
<circle cx="194.3" cy="405.3" r="1.05" fill="#b8b8b8"/>
<circle cx="190.1" cy="424.6" r="1.05" fill="#b8b8b8"/>
<circle cx="200.2" cy="423.2" r="1.05" fill="#b8b8b8"/>
<circle cx="189.9" cy="428.0" r="1.05" fill="#b8b8b8"/>
<circle cx="197.2" cy="421.0" r="1.05" fill="#b8b8b8"/>
<circle cx="203.6" cy="401.3" r="1.05" fill="#b8b8b8"/>
<circle cx="203.7" cy="422.8" r="1.05" fill="#b8b8b8"/>
<circle cx="190.2" cy="426.9" r="1.05" fill="#b8b8b8"/>
<circle cx="196.4" cy="408.0" r="1.05" fill="#b8b8b8"/>
<circle cx="195.6" cy="423.6" r="1.05" fill="#b8b8b8"/>
<circle cx="195.2" cy="411.3" r="1.05" fill="#b8b8b8"/>
<circle cx="199.0" cy="406.6" r="1.05" fill="#b8b8b8"/>
<circle cx="201.6" cy="409.7" r="1.05" fill="#b8b8b8"/>
<circle cx="190.7" cy="403.0" r="1.05" fill="#b8b8b8"/>
<circle cx="193.3" cy="413.2" r="1.05" fill="#b8b8b8"/>
<circle cx="194.5" cy="407.0" r="1.05" fill="#b8b8b8"/>
<circle cx="191.9" cy="423.2" r="1.05" fill="#b8b8b8"/>
<circle cx="192.6" cy="425.6" r="1.05" fill="#b8b8b8"/>
<circle cx="202.2" cy="412.8" r="1.05" fill="#b8b8b8"/>
<circle cx="193.8" cy="418.9" r="1.05" fill="#b8b8b8"/>
<circle cx="203.8" cy="415.2" r="1.05" fill="#b8b8b8"/>
<circle cx="192.4" cy="404.3" r="1.05" fill="#b8b8b8"/>
<circle cx="198.7" cy="397.0" r="1.05" fill="#b8b8b8"/>
<circle cx="190.4" cy="416.3" r="1.05" fill="#b8b8b8"/>
<circle cx="201.2" cy="403.0" r="1.05" fill="#b8b8b8"/>
<circle cx="202.6" cy="427.9" r="1.05" fill="#b8b8b8"/>
<circle cx="193.3" cy="426.4" r="1.05" fill="#b8b8b8"/>
<circle cx="191.7" cy="397.7" r="1.05" fill="#b8b8b8"/>
<circle cx="197.6" cy="399.4" r="1.05" fill="#b8b8b8"/>
<circle cx="194.5" cy="402.0" r="1.05" fill="#b8b8b8"/>
<circle cx="195.6" cy="422.9" r="1.05" fill="#b8b8b8"/>
<circle cx="200.6" cy="398.8" r="1.05" fill="#b8b8b8"/>
<circle cx="190.5" cy="412.2" r="1.05" fill="#b8b8b8"/>
<circle cx="198.2" cy="424.0" r="1.05" fill="#b8b8b8"/>
<circle cx="194.4" cy="425.9" r="1.05" fill="#b8b8b8"/>
<circle cx="192.0" cy="423.0" r="1.05" fill="#b8b8b8"/>
<circle cx="197.9" cy="410.2" r="1.05" fill="#b8b8b8"/>
<circle cx="192.0" cy="428.3" r="1.05" fill="#b8b8b8"/>
<circle cx="193.8" cy="409.2" r="1.05" fill="#b8b8b8"/>
<circle cx="191.7" cy="421.4" r="1.05" fill="#b8b8b8"/>
<circle cx="192.0" cy="404.8" r="1.05" fill="#b8b8b8"/>
<circle cx="197.1" cy="427.5" r="1.05" fill="#b8b8b8"/>
<circle cx="190.4" cy="418.9" r="1.05" fill="#b8b8b8"/>
<circle cx="197.2" cy="410.6" r="1.05" fill="#b8b8b8"/>
<circle cx="190.3" cy="425.4" r="1.05" fill="#b8b8b8"/>
<circle cx="199.3" cy="418.4" r="1.05" fill="#b8b8b8"/>
<circle cx="193.1" cy="421.5" r="1.05" fill="#b8b8b8"/>
<circle cx="203.2" cy="421.4" r="1.05" fill="#b8b8b8"/>
<circle cx="197.4" cy="420.1" r="1.05" fill="#b8b8b8"/>
<circle cx="195.1" cy="402.1" r="1.05" fill="#b8b8b8"/>
<circle cx="203.8" cy="419.9" r="1.05" fill="#b8b8b8"/>
<circle cx="191.9" cy="407.3" r="1.05" fill="#b8b8b8"/>
<circle cx="192.0" cy="428.4" r="1.05" fill="#b8b8b8"/>
<circle cx="202.4" cy="418.0" r="1.05" fill="#b8b8b8"/>
<circle cx="201.2" cy="418.6" r="1.05" fill="#b8b8b8"/>
<circle cx="202.1" cy="416.8" r="1.05" fill="#b8b8b8"/>
<circle cx="191.3" cy="428.3" r="1.05" fill="#b8b8b8"/>
<circle cx="197.2" cy="410.6" r="1.05" fill="#b8b8b8"/>
<circle cx="202.5" cy="427.1" r="1.05" fill="#b8b8b8"/>
<circle cx="198.2" cy="419.7" r="1.05" fill="#b8b8b8"/>
<circle cx="243.6" cy="317.8" r="1.05" fill="#b8b8b8"/>
<circle cx="242.5" cy="344.5" r="1.05" fill="#b8b8b8"/>
<circle cx="242.9" cy="371.8" r="1.05" fill="#b8b8b8"/>
<circle cx="243.4" cy="372.8" r="1.05" fill="#b8b8b8"/>
<circle cx="241.0" cy="378.7" r="1.05" fill="#b8b8b8"/>
<circle cx="245.1" cy="372.3" r="1.05" fill="#b8b8b8"/>
<circle cx="241.5" cy="383.5" r="1.05" fill="#b8b8b8"/>
<circle cx="246.0" cy="372.2" r="1.05" fill="#b8b8b8"/>
<circle cx="243.2" cy="384.5" r="1.05" fill="#b8b8b8"/>
<circle cx="247.5" cy="394.8" r="1.05" fill="#b8b8b8"/>
<circle cx="247.2" cy="391.1" r="1.05" fill="#b8b8b8"/>
<circle cx="246.4" cy="398.3" r="1.05" fill="#b8b8b8"/>
<circle cx="245.9" cy="397.4" r="1.05" fill="#b8b8b8"/>
<circle cx="241.7" cy="387.6" r="1.05" fill="#b8b8b8"/>
<circle cx="246.4" cy="398.0" r="1.05" fill="#b8b8b8"/>
<circle cx="239.7" cy="394.6" r="1.05" fill="#b8b8b8"/>
<circle cx="243.0" cy="394.8" r="1.05" fill="#b8b8b8"/>
<circle cx="238.7" cy="397.0" r="1.05" fill="#b8b8b8"/>
<circle cx="245.3" cy="386.8" r="1.05" fill="#b8b8b8"/>
<circle cx="237.8" cy="392.1" r="1.05" fill="#b8b8b8"/>
<circle cx="245.6" cy="400.2" r="1.05" fill="#b8b8b8"/>
<circle cx="246.5" cy="399.0" r="1.05" fill="#b8b8b8"/>
<circle cx="243.9" cy="392.2" r="1.05" fill="#b8b8b8"/>
<circle cx="244.2" cy="396.1" r="1.05" fill="#b8b8b8"/>
<circle cx="241.9" cy="391.7" r="1.05" fill="#b8b8b8"/>
<circle cx="242.0" cy="390.5" r="1.05" fill="#b8b8b8"/>
<circle cx="242.2" cy="394.0" r="1.05" fill="#b8b8b8"/>
<circle cx="237.6" cy="391.2" r="1.05" fill="#b8b8b8"/>
<circle cx="242.7" cy="397.2" r="1.05" fill="#b8b8b8"/>
<circle cx="248.3" cy="409.4" r="1.05" fill="#b8b8b8"/>
<circle cx="243.7" cy="426.3" r="1.05" fill="#b8b8b8"/>
<circle cx="243.9" cy="427.5" r="1.05" fill="#b8b8b8"/>
<circle cx="238.7" cy="420.6" r="1.05" fill="#b8b8b8"/>
<circle cx="238.2" cy="420.3" r="1.05" fill="#b8b8b8"/>
<circle cx="244.5" cy="428.2" r="1.05" fill="#b8b8b8"/>
<circle cx="246.3" cy="427.8" r="1.05" fill="#b8b8b8"/>
<circle cx="247.8" cy="409.5" r="1.05" fill="#b8b8b8"/>
<circle cx="244.5" cy="428.1" r="1.05" fill="#b8b8b8"/>
<circle cx="244.4" cy="422.0" r="1.05" fill="#b8b8b8"/>
<circle cx="251.1" cy="427.0" r="1.05" fill="#b8b8b8"/>
<circle cx="249.7" cy="401.0" r="1.05" fill="#b8b8b8"/>
<circle cx="247.8" cy="408.1" r="1.05" fill="#b8b8b8"/>
<circle cx="239.7" cy="401.6" r="1.05" fill="#b8b8b8"/>
<circle cx="244.2" cy="402.6" r="1.05" fill="#b8b8b8"/>
<circle cx="250.5" cy="426.6" r="1.05" fill="#b8b8b8"/>
<circle cx="248.6" cy="403.7" r="1.05" fill="#b8b8b8"/>
<circle cx="237.8" cy="422.7" r="1.05" fill="#b8b8b8"/>
<circle cx="248.1" cy="426.7" r="1.05" fill="#b8b8b8"/>
<circle cx="250.2" cy="424.4" r="1.05" fill="#b8b8b8"/>
<circle cx="249.0" cy="426.9" r="1.05" fill="#b8b8b8"/>
<circle cx="244.3" cy="404.1" r="1.05" fill="#b8b8b8"/>
<circle cx="239.9" cy="424.7" r="1.05" fill="#b8b8b8"/>
<circle cx="244.4" cy="423.5" r="1.05" fill="#b8b8b8"/>
<circle cx="237.4" cy="426.3" r="1.05" fill="#b8b8b8"/>
<circle cx="239.2" cy="403.4" r="1.05" fill="#b8b8b8"/>
<circle cx="247.0" cy="405.1" r="1.05" fill="#b8b8b8"/>
<circle cx="239.3" cy="409.2" r="1.05" fill="#b8b8b8"/>
<circle cx="238.5" cy="417.8" r="1.05" fill="#b8b8b8"/>
<circle cx="246.3" cy="422.5" r="1.05" fill="#b8b8b8"/>
<circle cx="249.9" cy="417.0" r="1.05" fill="#b8b8b8"/>
<circle cx="245.5" cy="405.6" r="1.05" fill="#b8b8b8"/>
<circle cx="238.4" cy="401.1" r="1.05" fill="#b8b8b8"/>
<circle cx="246.2" cy="421.6" r="1.05" fill="#b8b8b8"/>
<circle cx="248.8" cy="424.7" r="1.05" fill="#b8b8b8"/>
<circle cx="251.7" cy="416.3" r="1.05" fill="#b8b8b8"/>
<circle cx="242.2" cy="410.0" r="1.05" fill="#b8b8b8"/>
<circle cx="243.4" cy="426.4" r="1.05" fill="#b8b8b8"/>
<circle cx="248.0" cy="428.1" r="1.05" fill="#b8b8b8"/>
<circle cx="249.1" cy="424.9" r="1.05" fill="#b8b8b8"/>
<circle cx="246.4" cy="401.5" r="1.05" fill="#b8b8b8"/>
<circle cx="245.6" cy="413.5" r="1.05" fill="#b8b8b8"/>
<circle cx="241.5" cy="428.4" r="1.05" fill="#b8b8b8"/>
<circle cx="237.3" cy="426.8" r="1.05" fill="#b8b8b8"/>
<circle cx="246.0" cy="420.6" r="1.05" fill="#b8b8b8"/>
<circle cx="244.5" cy="405.1" r="1.05" fill="#b8b8b8"/>
<circle cx="238.8" cy="425.4" r="1.05" fill="#b8b8b8"/>
<circle cx="246.6" cy="428.3" r="1.05" fill="#b8b8b8"/>
<circle cx="236.8" cy="422.6" r="1.05" fill="#b8b8b8"/>
<circle cx="238.4" cy="422.5" r="1.05" fill="#b8b8b8"/>
<circle cx="240.2" cy="416.1" r="1.05" fill="#b8b8b8"/>
<circle cx="245.6" cy="425.9" r="1.05" fill="#b8b8b8"/>
<circle cx="246.2" cy="419.4" r="1.05" fill="#b8b8b8"/>
<circle cx="238.8" cy="403.4" r="1.05" fill="#b8b8b8"/>
<circle cx="240.5" cy="426.8" r="1.05" fill="#b8b8b8"/>
<circle cx="238.2" cy="414.4" r="1.05" fill="#b8b8b8"/>
<circle cx="249.9" cy="409.3" r="1.05" fill="#b8b8b8"/>
<circle cx="242.8" cy="424.7" r="1.05" fill="#b8b8b8"/>
<circle cx="237.0" cy="414.1" r="1.05" fill="#b8b8b8"/>
<circle cx="245.2" cy="422.7" r="1.05" fill="#b8b8b8"/>
<circle cx="246.5" cy="420.3" r="1.05" fill="#b8b8b8"/>
<circle cx="250.9" cy="411.1" r="1.05" fill="#b8b8b8"/>
<circle cx="240.5" cy="404.7" r="1.05" fill="#b8b8b8"/>
<circle cx="237.5" cy="417.7" r="1.05" fill="#b8b8b8"/>
<circle cx="242.9" cy="425.2" r="1.05" fill="#b8b8b8"/>
<circle cx="237.7" cy="409.5" r="1.05" fill="#b8b8b8"/>
<circle cx="237.0" cy="417.1" r="1.05" fill="#b8b8b8"/>
<circle cx="250.9" cy="426.9" r="1.05" fill="#b8b8b8"/>
<circle cx="239.8" cy="415.3" r="1.05" fill="#b8b8b8"/>
<circle cx="244.4" cy="414.3" r="1.05" fill="#b8b8b8"/>
<circle cx="249.0" cy="426.4" r="1.05" fill="#b8b8b8"/>
<circle cx="241.4" cy="423.9" r="1.05" fill="#b8b8b8"/>
<circle cx="237.5" cy="405.3" r="1.05" fill="#b8b8b8"/>
<circle cx="248.5" cy="411.7" r="1.05" fill="#b8b8b8"/>
<circle cx="236.9" cy="407.0" r="1.05" fill="#b8b8b8"/>
<circle cx="248.0" cy="419.7" r="1.05" fill="#b8b8b8"/>
<circle cx="247.9" cy="420.0" r="1.05" fill="#b8b8b8"/>
<circle cx="240.2" cy="427.5" r="1.05" fill="#b8b8b8"/>
<circle cx="240.3" cy="428.2" r="1.05" fill="#b8b8b8"/>
<circle cx="241.8" cy="410.5" r="1.05" fill="#b8b8b8"/>
<circle cx="247.2" cy="407.0" r="1.05" fill="#b8b8b8"/>
<circle cx="247.5" cy="424.6" r="1.05" fill="#b8b8b8"/>
<circle cx="245.1" cy="420.5" r="1.05" fill="#b8b8b8"/>
<circle cx="248.6" cy="418.0" r="1.05" fill="#b8b8b8"/>
<circle cx="240.8" cy="414.2" r="1.05" fill="#b8b8b8"/>
<circle cx="251.3" cy="425.6" r="1.05" fill="#b8b8b8"/>
<circle cx="250.0" cy="428.4" r="1.05" fill="#b8b8b8"/>
<circle cx="240.7" cy="425.3" r="1.05" fill="#b8b8b8"/>
<circle cx="248.0" cy="403.1" r="1.05" fill="#b8b8b8"/>
<circle cx="248.0" cy="423.3" r="1.05" fill="#b8b8b8"/>
<circle cx="250.0" cy="423.2" r="1.05" fill="#b8b8b8"/>
<circle cx="240.4" cy="404.6" r="1.05" fill="#b8b8b8"/>
<circle cx="246.3" cy="412.5" r="1.05" fill="#b8b8b8"/>
<circle cx="246.8" cy="401.7" r="1.05" fill="#b8b8b8"/>
<circle cx="243.8" cy="407.2" r="1.05" fill="#b8b8b8"/>
<circle cx="247.3" cy="406.5" r="1.05" fill="#b8b8b8"/>
<circle cx="243.4" cy="411.4" r="1.05" fill="#b8b8b8"/>
<circle cx="245.4" cy="423.7" r="1.05" fill="#b8b8b8"/>
<circle cx="240.0" cy="414.9" r="1.05" fill="#b8b8b8"/>
<circle cx="238.0" cy="404.5" r="1.05" fill="#b8b8b8"/>
<circle cx="239.0" cy="428.3" r="1.05" fill="#b8b8b8"/>
<circle cx="238.4" cy="403.7" r="1.05" fill="#b8b8b8"/>
<circle cx="242.0" cy="427.0" r="1.05" fill="#b8b8b8"/>
<circle cx="237.2" cy="428.2" r="1.05" fill="#b8b8b8"/>
<circle cx="247.2" cy="414.5" r="1.05" fill="#b8b8b8"/>
<circle cx="247.3" cy="411.0" r="1.05" fill="#b8b8b8"/>
<circle cx="237.8" cy="415.9" r="1.05" fill="#b8b8b8"/>
<circle cx="242.3" cy="408.0" r="1.05" fill="#b8b8b8"/>
<circle cx="249.1" cy="405.2" r="1.05" fill="#b8b8b8"/>
<circle cx="237.8" cy="406.1" r="1.05" fill="#b8b8b8"/>
<circle cx="292.8" cy="313.6" r="1.05" fill="#b8b8b8"/>
<circle cx="292.9" cy="330.9" r="1.05" fill="#b8b8b8"/>
<circle cx="290.4" cy="351.1" r="1.05" fill="#b8b8b8"/>
<circle cx="290.7" cy="370.4" r="1.05" fill="#b8b8b8"/>
<circle cx="286.0" cy="406.2" r="1.05" fill="#b8b8b8"/>
<circle cx="297.0" cy="398.5" r="1.05" fill="#b8b8b8"/>
<circle cx="293.8" cy="398.3" r="1.05" fill="#b8b8b8"/>
<circle cx="293.8" cy="403.7" r="1.05" fill="#b8b8b8"/>
<circle cx="285.8" cy="405.6" r="1.05" fill="#b8b8b8"/>
<circle cx="295.7" cy="404.5" r="1.05" fill="#b8b8b8"/>
<circle cx="289.1" cy="402.3" r="1.05" fill="#b8b8b8"/>
<circle cx="284.6" cy="404.0" r="1.05" fill="#b8b8b8"/>
<circle cx="288.5" cy="399.4" r="1.05" fill="#b8b8b8"/>
<circle cx="289.8" cy="403.3" r="1.05" fill="#b8b8b8"/>
<circle cx="299.2" cy="422.4" r="1.05" fill="#b8b8b8"/>
<circle cx="297.4" cy="419.4" r="1.05" fill="#b8b8b8"/>
<circle cx="284.3" cy="424.4" r="1.05" fill="#b8b8b8"/>
<circle cx="290.8" cy="414.7" r="1.05" fill="#b8b8b8"/>
<circle cx="289.3" cy="416.9" r="1.05" fill="#b8b8b8"/>
<circle cx="292.4" cy="427.9" r="1.05" fill="#b8b8b8"/>
<circle cx="297.6" cy="429.2" r="1.05" fill="#b8b8b8"/>
<circle cx="296.9" cy="428.4" r="1.05" fill="#b8b8b8"/>
<circle cx="283.8" cy="428.0" r="1.05" fill="#b8b8b8"/>
<circle cx="296.0" cy="407.4" r="1.05" fill="#b8b8b8"/>
<circle cx="283.9" cy="422.7" r="1.05" fill="#b8b8b8"/>
<circle cx="291.7" cy="413.9" r="1.05" fill="#b8b8b8"/>
<circle cx="286.8" cy="422.6" r="1.05" fill="#b8b8b8"/>
<circle cx="289.4" cy="412.7" r="1.05" fill="#b8b8b8"/>
<circle cx="288.0" cy="408.7" r="1.05" fill="#b8b8b8"/>
<circle cx="288.3" cy="427.9" r="1.05" fill="#b8b8b8"/>
<circle cx="295.0" cy="422.5" r="1.05" fill="#b8b8b8"/>
<circle cx="285.6" cy="418.9" r="1.05" fill="#b8b8b8"/>
<circle cx="285.1" cy="414.2" r="1.05" fill="#b8b8b8"/>
<circle cx="295.0" cy="414.2" r="1.05" fill="#b8b8b8"/>
<circle cx="293.8" cy="425.6" r="1.05" fill="#b8b8b8"/>
<circle cx="290.2" cy="424.8" r="1.05" fill="#b8b8b8"/>
<circle cx="298.0" cy="429.2" r="1.05" fill="#b8b8b8"/>
<circle cx="298.0" cy="429.5" r="1.05" fill="#b8b8b8"/>
<circle cx="287.1" cy="427.2" r="1.05" fill="#b8b8b8"/>
<circle cx="298.2" cy="422.4" r="1.05" fill="#b8b8b8"/>
<circle cx="289.9" cy="410.9" r="1.05" fill="#b8b8b8"/>
<circle cx="287.5" cy="423.4" r="1.05" fill="#b8b8b8"/>
<circle cx="292.3" cy="415.3" r="1.05" fill="#b8b8b8"/>
<circle cx="295.8" cy="418.6" r="1.05" fill="#b8b8b8"/>
<circle cx="289.4" cy="426.1" r="1.05" fill="#b8b8b8"/>
<circle cx="286.3" cy="412.3" r="1.05" fill="#b8b8b8"/>
<circle cx="294.4" cy="415.7" r="1.05" fill="#b8b8b8"/>
<circle cx="286.5" cy="423.9" r="1.05" fill="#b8b8b8"/>
<circle cx="296.2" cy="420.5" r="1.05" fill="#b8b8b8"/>
<circle cx="285.8" cy="423.4" r="1.05" fill="#b8b8b8"/>
<circle cx="298.0" cy="427.6" r="1.05" fill="#b8b8b8"/>
<circle cx="286.9" cy="426.6" r="1.05" fill="#b8b8b8"/>
<circle cx="295.1" cy="412.3" r="1.05" fill="#b8b8b8"/>
<circle cx="286.3" cy="428.6" r="1.05" fill="#b8b8b8"/>
<circle cx="287.8" cy="426.1" r="1.05" fill="#b8b8b8"/>
<circle cx="292.2" cy="428.5" r="1.05" fill="#b8b8b8"/>
<circle cx="289.0" cy="428.2" r="1.05" fill="#b8b8b8"/>
<circle cx="299.4" cy="416.1" r="1.05" fill="#b8b8b8"/>
<circle cx="285.4" cy="408.0" r="1.05" fill="#b8b8b8"/>
<circle cx="285.4" cy="425.0" r="1.05" fill="#b8b8b8"/>
<circle cx="299.5" cy="414.0" r="1.05" fill="#b8b8b8"/>
<circle cx="295.5" cy="424.0" r="1.05" fill="#b8b8b8"/>
<circle cx="286.9" cy="418.8" r="1.05" fill="#b8b8b8"/>
<circle cx="285.5" cy="428.0" r="1.05" fill="#b8b8b8"/>
<circle cx="290.0" cy="429.5" r="1.05" fill="#b8b8b8"/>
<circle cx="290.2" cy="414.1" r="1.05" fill="#b8b8b8"/>
<circle cx="294.9" cy="422.5" r="1.05" fill="#b8b8b8"/>
<circle cx="293.9" cy="423.3" r="1.05" fill="#b8b8b8"/>
<circle cx="286.1" cy="419.8" r="1.05" fill="#b8b8b8"/>
<circle cx="290.3" cy="415.7" r="1.05" fill="#b8b8b8"/>
<circle cx="298.3" cy="424.1" r="1.05" fill="#b8b8b8"/>
<circle cx="293.0" cy="415.5" r="1.05" fill="#b8b8b8"/>
<circle cx="290.5" cy="427.7" r="1.05" fill="#b8b8b8"/>
<circle cx="295.4" cy="411.0" r="1.05" fill="#b8b8b8"/>
<circle cx="296.2" cy="417.0" r="1.05" fill="#b8b8b8"/>
<circle cx="297.4" cy="417.6" r="1.05" fill="#b8b8b8"/>
<circle cx="294.1" cy="423.5" r="1.05" fill="#b8b8b8"/>
<circle cx="288.8" cy="419.1" r="1.05" fill="#b8b8b8"/>
<circle cx="285.4" cy="424.3" r="1.05" fill="#b8b8b8"/>
<circle cx="296.3" cy="416.6" r="1.05" fill="#b8b8b8"/>
<circle cx="293.9" cy="427.4" r="1.05" fill="#b8b8b8"/>
<circle cx="290.6" cy="423.5" r="1.05" fill="#b8b8b8"/>
<circle cx="293.7" cy="424.5" r="1.05" fill="#b8b8b8"/>
<circle cx="294.6" cy="409.2" r="1.05" fill="#b8b8b8"/>
<circle cx="286.7" cy="418.4" r="1.05" fill="#b8b8b8"/>
<circle cx="296.3" cy="424.9" r="1.05" fill="#b8b8b8"/>
<circle cx="291.6" cy="407.5" r="1.05" fill="#b8b8b8"/>
<circle cx="284.4" cy="421.4" r="1.05" fill="#b8b8b8"/>
<circle cx="286.4" cy="414.4" r="1.05" fill="#b8b8b8"/>
<circle cx="298.8" cy="422.0" r="1.05" fill="#b8b8b8"/>
<circle cx="285.4" cy="420.6" r="1.05" fill="#b8b8b8"/>
<circle cx="292.5" cy="416.5" r="1.05" fill="#b8b8b8"/>
<circle cx="292.0" cy="418.8" r="1.05" fill="#b8b8b8"/>
<circle cx="297.1" cy="421.9" r="1.05" fill="#b8b8b8"/>
<circle cx="290.4" cy="408.5" r="1.05" fill="#b8b8b8"/>
<circle cx="287.2" cy="417.5" r="1.05" fill="#b8b8b8"/>
<circle cx="290.1" cy="415.0" r="1.05" fill="#b8b8b8"/>
<circle cx="285.8" cy="407.1" r="1.05" fill="#b8b8b8"/>
<circle cx="289.5" cy="429.4" r="1.05" fill="#b8b8b8"/>
<circle cx="288.2" cy="424.7" r="1.05" fill="#b8b8b8"/>
<circle cx="284.0" cy="424.3" r="1.05" fill="#b8b8b8"/>
<circle cx="290.5" cy="417.1" r="1.05" fill="#b8b8b8"/>
<circle cx="289.4" cy="427.2" r="1.05" fill="#b8b8b8"/>
<circle cx="287.4" cy="415.7" r="1.05" fill="#b8b8b8"/>
<circle cx="298.8" cy="421.8" r="1.05" fill="#b8b8b8"/>
<circle cx="287.3" cy="413.8" r="1.05" fill="#b8b8b8"/>
<circle cx="290.1" cy="427.9" r="1.05" fill="#b8b8b8"/>
<circle cx="285.9" cy="414.6" r="1.05" fill="#b8b8b8"/>
<circle cx="296.8" cy="418.9" r="1.05" fill="#b8b8b8"/>
<circle cx="291.3" cy="420.9" r="1.05" fill="#b8b8b8"/>
<circle cx="287.4" cy="407.9" r="1.05" fill="#b8b8b8"/>
<circle cx="289.5" cy="418.8" r="1.05" fill="#b8b8b8"/>
<circle cx="296.9" cy="413.3" r="1.05" fill="#b8b8b8"/>
<circle cx="291.3" cy="426.7" r="1.05" fill="#b8b8b8"/>
<circle cx="292.6" cy="428.9" r="1.05" fill="#b8b8b8"/>
<circle cx="297.1" cy="425.6" r="1.05" fill="#b8b8b8"/>
<circle cx="297.4" cy="427.1" r="1.05" fill="#b8b8b8"/>
<circle cx="289.8" cy="427.3" r="1.05" fill="#b8b8b8"/>
<circle cx="290.6" cy="428.2" r="1.05" fill="#b8b8b8"/>
<circle cx="283.8" cy="416.3" r="1.05" fill="#b8b8b8"/>
<circle cx="288.3" cy="427.5" r="1.05" fill="#b8b8b8"/>
<circle cx="288.6" cy="423.0" r="1.05" fill="#b8b8b8"/>
<circle cx="290.7" cy="418.9" r="1.05" fill="#b8b8b8"/>
<circle cx="294.3" cy="425.5" r="1.05" fill="#b8b8b8"/>
<circle cx="298.7" cy="411.9" r="1.05" fill="#b8b8b8"/>
<circle cx="284.7" cy="412.9" r="1.05" fill="#b8b8b8"/>
<circle cx="298.3" cy="414.3" r="1.05" fill="#b8b8b8"/>
<circle cx="286.0" cy="412.7" r="1.05" fill="#b8b8b8"/>
<circle cx="293.9" cy="429.5" r="1.05" fill="#b8b8b8"/>
<circle cx="285.2" cy="376.7" r="1.05" fill="#b8b8b8"/>
<circle cx="291.6" cy="376.7" r="1.05" fill="#b8b8b8"/>
<circle cx="285.8" cy="381.8" r="1.05" fill="#b8b8b8"/>
<circle cx="291.8" cy="381.8" r="1.05" fill="#b8b8b8"/>
<circle cx="291.8" cy="388.1" r="1.05" fill="#b8b8b8"/>
<circle cx="297.8" cy="393.7" r="1.05" fill="#b8b8b8"/>
<circle cx="298.8" cy="398.0" r="1.05" fill="#b8b8b8"/>
<circle cx="291.8" cy="398.0" r="1.05" fill="#b8b8b8"/>
<line x1="81.00" y1="292.23" x2="81.00" y2="416.77" stroke="#111" stroke-width="1.5" />
<line x1="77.00" y1="292.23" x2="85.00" y2="292.23" stroke="#111" stroke-width="1.5" />
<line x1="77.00" y1="416.77" x2="85.00" y2="416.77" stroke="#111" stroke-width="1.5" />
<rect x="73.70" y="343.13" width="14.6" height="60.28" fill="#f3dcae" stroke="#111" stroke-width="1.5"/>
<line x1="73.70" y1="385.78" x2="88.30" y2="385.78" stroke="#111" stroke-width="1.5" />
<rect x="78.70" y="363.86" width="4.6" height="4.6" fill="#fbe9c6" stroke="#111" stroke-width="1.4"/>
<line x1="129.00" y1="325.21" x2="129.00" y2="420.75" stroke="#111" stroke-width="1.5" />
<line x1="125.00" y1="325.21" x2="133.00" y2="325.21" stroke="#111" stroke-width="1.5" />
<line x1="125.00" y1="420.75" x2="133.00" y2="420.75" stroke="#111" stroke-width="1.5" />
<rect x="121.70" y="363.03" width="14.6" height="49.19" fill="#f3dcae" stroke="#111" stroke-width="1.5"/>
<line x1="121.70" y1="395.73" x2="136.30" y2="395.73" stroke="#111" stroke-width="1.5" />
<rect x="126.70" y="378.36" width="4.6" height="4.6" fill="#fbe9c6" stroke="#111" stroke-width="1.4"/>
<line x1="177.00" y1="361.32" x2="177.00" y2="424.16" stroke="#111" stroke-width="1.5" />
<line x1="173.00" y1="361.32" x2="181.00" y2="361.32" stroke="#111" stroke-width="1.5" />
<line x1="173.00" y1="424.16" x2="181.00" y2="424.16" stroke="#111" stroke-width="1.5" />
<rect x="169.70" y="388.62" width="14.6" height="29.00" fill="#f3dcae" stroke="#111" stroke-width="1.5"/>
<line x1="169.70" y1="405.11" x2="184.30" y2="405.11" stroke="#111" stroke-width="1.5" />
<rect x="174.70" y="395.42" width="4.6" height="4.6" fill="#fbe9c6" stroke="#111" stroke-width="1.4"/>
<line x1="225.00" y1="392.03" x2="225.00" y2="427.86" stroke="#111" stroke-width="1.5" />
<line x1="221.00" y1="392.03" x2="229.00" y2="392.03" stroke="#111" stroke-width="1.5" />
<line x1="221.00" y1="427.86" x2="229.00" y2="427.86" stroke="#111" stroke-width="1.5" />
<rect x="217.70" y="406.53" width="14.6" height="17.34" fill="#f3dcae" stroke="#111" stroke-width="1.5"/>
<line x1="217.70" y1="418.19" x2="232.30" y2="418.19" stroke="#111" stroke-width="1.5" />
<rect x="222.70" y="410.77" width="4.6" height="4.6" fill="#fbe9c6" stroke="#111" stroke-width="1.4"/>
<line x1="273.00" y1="411.37" x2="273.00" y2="430.42" stroke="#111" stroke-width="1.5" />
<line x1="269.00" y1="411.37" x2="277.00" y2="411.37" stroke="#111" stroke-width="1.5" />
<line x1="269.00" y1="430.42" x2="277.00" y2="430.42" stroke="#111" stroke-width="1.5" />
<rect x="265.70" y="420.18" width="14.6" height="7.96" fill="#f3dcae" stroke="#111" stroke-width="1.5"/>
<line x1="265.70" y1="425.01" x2="280.30" y2="425.01" stroke="#111" stroke-width="1.5" />
<rect x="270.70" y="419.59" width="4.6" height="4.6" fill="#fbe9c6" stroke="#111" stroke-width="1.4"/>
<rect x="66.6" y="260.1" width="239.90" height="170.60" fill="none" stroke="#000" stroke-width="1.7"/>
<line x1="61.10" y1="430.70" x2="66.60" y2="430.70" stroke="#000" stroke-width="1.7" />
<text transform="translate(56.30,436.10) scale(1,1.02)" font-size="15.8" text-anchor="end" >0</text>
<line x1="61.10" y1="402.27" x2="66.60" y2="402.27" stroke="#000" stroke-width="1.7" />
<text transform="translate(56.30,407.67) scale(1,1.02)" font-size="15.8" text-anchor="end" >1</text>
<line x1="61.10" y1="373.83" x2="66.60" y2="373.83" stroke="#000" stroke-width="1.7" />
<text transform="translate(56.30,379.23) scale(1,1.02)" font-size="15.8" text-anchor="end" >2</text>
<line x1="61.10" y1="345.40" x2="66.60" y2="345.40" stroke="#000" stroke-width="1.7" />
<text transform="translate(56.30,350.80) scale(1,1.02)" font-size="15.8" text-anchor="end" >3</text>
<line x1="61.10" y1="316.97" x2="66.60" y2="316.97" stroke="#000" stroke-width="1.7" />
<text transform="translate(56.30,322.37) scale(1,1.02)" font-size="15.8" text-anchor="end" >4</text>
<line x1="61.10" y1="288.53" x2="66.60" y2="288.53" stroke="#000" stroke-width="1.7" />
<text transform="translate(56.30,293.93) scale(1,1.02)" font-size="15.8" text-anchor="end" >5</text>
<line x1="61.10" y1="260.10" x2="66.60" y2="260.10" stroke="#000" stroke-width="1.7" />
<text transform="translate(56.30,265.50) scale(1,1.02)" font-size="15.8" text-anchor="end" >6</text>
<line x1="90.30" y1="430.70" x2="90.30" y2="437.20" stroke="#000" stroke-width="1.7" />
<text transform="translate(90.30,455.60) scale(1,1.02)" font-size="16.2" text-anchor="middle" >2019</text>
<line x1="138.30" y1="430.70" x2="138.30" y2="437.20" stroke="#000" stroke-width="1.7" />
<text transform="translate(138.30,455.60) scale(1,1.02)" font-size="16.2" text-anchor="middle" >2020</text>
<line x1="186.30" y1="430.70" x2="186.30" y2="437.20" stroke="#000" stroke-width="1.7" />
<text transform="translate(186.30,455.60) scale(1,1.02)" font-size="16.2" text-anchor="middle" >2021</text>
<line x1="234.30" y1="430.70" x2="234.30" y2="437.20" stroke="#000" stroke-width="1.7" />
<text transform="translate(234.30,455.60) scale(1,1.02)" font-size="16.2" text-anchor="middle" >2022</text>
<line x1="282.30" y1="430.70" x2="282.30" y2="437.20" stroke="#000" stroke-width="1.7" />
<text transform="translate(282.30,455.60) scale(1,1.02)" font-size="16.2" text-anchor="middle" >2023</text>
<text transform="translate(187.00,473.90) scale(1,1.02)" font-size="15.0" text-anchor="middle" >Year</text>
<text transform="translate(68.80,277.40) scale(1,1.02)" font-size="16" text-anchor="start" >(b)</text>
<text transform="translate(37.6,344.9) rotate(-90) scale(1,1.02)" font-size="16" text-anchor="middle"><tspan font-style="italic">S</tspan><tspan dy="4" font-size="11" font-style="italic">vehicle</tspan><tspan dy="-4"> (cm</tspan><tspan dy="-6.3" font-size="11.2">-3</tspan><tspan dy="6.3"> s</tspan><tspan dy="-6.3" font-size="11.2">-1</tspan><tspan dy="6.3">)</tspan></text>
<clipPath id="cc"><rect x="378.5" y="38.6" width="240.10" height="170.40"/></clipPath>
<g clip-path="url(#cc)" fill="none" stroke-width="2.1" stroke-linejoin="round">
<path d="M379.2,86.5 C379.67,85.61 383.06,79.12 383.9,77.6 C384.74,76.08 386.50,72.40 387.6,71.3 C388.70,70.20 393.54,67.23 394.9,66.6 C396.26,65.97 399.94,65.09 401.2,65 C402.46,64.91 406.19,65.28 407.5,65.7 C408.81,66.12 413.06,68.28 414.3,69.2 C415.54,70.12 419.11,73.91 419.9,74.9 C420.69,75.89 421.64,78.58 422.2,79.1 C422.76,79.62 425.00,79.91 425.5,80.1 C426.00,80.29 426.94,80.66 427.2,81 C427.46,81.34 427.76,82.48 428.1,83.5 C428.44,84.52 429.89,89.69 430.6,91.2 C431.31,92.71 434.46,98.02 435.2,98.6 C435.94,99.18 437.41,97.27 438,97 C438.59,96.73 440.20,95.89 441.1,95.9 C442.60,95.92 444.68,96.83 447,97.1 C449.32,97.37 452.00,97.47 455,97.5 C458.00,97.53 461.45,97.38 465,97.3 C468.55,97.22 473.10,97.13 476.3,97 C479.50,96.87 481.58,96.23 484.2,96.5 C486.82,96.77 489.37,97.43 492,98.6 C494.63,99.77 496.93,100.77 500,103.5 C503.07,106.23 507.52,111.35 510.4,115 C513.28,118.65 515.18,121.73 517.3,125.4 C519.42,129.07 520.98,132.57 523.1,137 C525.22,141.43 527.68,147.00 530,152 C532.32,157.00 534.50,162.38 537,167 C539.50,171.62 541.93,175.67 545,179.7 C548.07,183.73 551.73,187.93 555.4,191.2 C559.07,194.47 563.15,196.98 567,199.3 C570.85,201.62 575.03,203.75 578.5,205.1 C581.97,206.45 584.22,206.80 587.8,207.4 C591.38,208.00 597.97,208.48 600,208.7" stroke="#f0444c" stroke-dasharray="14,6.2,2.9,6.2" stroke-dashoffset="4.33"/>
<path d="M378.5,154 C379.01,153.66 382.59,151.10 383.6,150.6 C384.61,150.10 387.72,149.18 388.6,149 C389.48,148.82 390.89,148.67 392.4,148.8 C393.91,148.93 402.06,150.03 403.7,150.3 C405.34,150.57 407.41,151.10 408.8,151.5 C410.19,151.90 416.09,153.67 417.6,154.3 C419.11,154.93 422.95,157.30 423.9,157.8 C424.85,158.30 426.34,158.79 427.1,159.3 C427.86,159.81 430.62,162.82 431.5,162.9 C432.38,162.98 434.89,161.05 435.9,160.1 C436.91,159.15 440.59,154.61 441.6,153.4 C443.28,151.38 444.77,149.28 446,148 C447.23,146.72 447.18,147.67 449,145.7 C450.82,143.73 454.02,140.15 456.9,136.2 C459.78,132.25 463.28,126.72 466.3,122 C469.32,117.28 471.77,112.98 475,107.9 C478.23,102.82 482.60,95.42 485.7,91.5 C488.80,87.58 490.72,86.10 493.6,84.4 C496.48,82.70 500.10,81.30 503,81.3 C505.90,81.30 508.63,82.83 511,84.4 C513.37,85.97 515.18,88.10 517.2,90.7 C519.22,93.30 520.58,95.37 523.1,100 C525.62,104.63 529.22,111.95 532.3,118.5 C535.38,125.05 538.70,132.77 541.6,139.3 C544.50,145.83 547.02,151.93 549.7,157.7 C552.38,163.47 554.82,168.88 557.7,173.9 C560.58,178.92 563.92,184.15 567,187.8 C570.08,191.45 573.52,193.12 576.2,195.8 C578.88,198.48 581.37,201.97 583.1,203.9 C584.83,205.83 585.12,206.63 586.6,207.4 C588.08,208.17 589.77,208.25 592,208.5 C594.23,208.75 598.67,208.83 600,208.9" stroke="#f0444c"/>
<path d="M378.5,149 C379.13,148.12 383.60,141.65 384.8,140.2 C386.00,138.75 389.17,135.41 390.5,134.5 C391.83,133.59 396.75,131.59 398.1,131.1 C399.45,130.61 402.74,129.85 404,129.6 C405.26,129.35 409.21,128.70 410.7,128.6 C412.19,128.50 417.33,128.58 418.9,128.6 C420.47,128.62 425.19,128.68 426.4,128.8 C427.61,128.92 429.99,129.52 431,129.8 C432.01,130.08 435.19,132.01 436.5,131.6 C437.81,131.19 442.38,126.58 444.1,125.7 C446.97,124.23 450.25,123.67 453.7,122.8 C457.15,121.93 461.38,121.28 464.8,120.5 C468.22,119.72 471.50,118.52 474.2,118.1 C476.90,117.68 478.28,117.58 481,118 C483.72,118.42 487.62,119.10 490.5,120.6 C493.38,122.10 495.95,124.77 498.3,127 C500.65,129.23 501.87,130.50 504.6,134 C507.33,137.50 511.63,143.42 514.7,148 C517.77,152.58 520.07,157.18 523,161.5 C525.93,165.82 529.20,169.92 532.3,173.9 C535.40,177.88 538.13,181.93 541.6,185.4 C545.07,188.87 549.63,192.18 553.1,194.7 C556.57,197.22 558.93,198.77 562.4,200.5 C565.87,202.23 570.13,203.92 573.9,205.1 C577.67,206.28 580.65,207.00 585,207.6 C589.35,208.20 594.50,208.47 600,208.7 C605.50,208.93 615.00,208.95 618,209" stroke="#4a86e8" stroke-dasharray="14,6.2,2.9,6.2" stroke-dashoffset="2.65"/>
<path d="M378.5,171.7 C378.88,171.26 381.48,168.18 382.3,167.3 C383.12,166.42 385.69,163.57 386.7,162.9 C387.71,162.23 390.95,161.07 392.4,160.6 C393.85,160.13 399.81,158.50 401.2,158.2 C402.59,157.90 405.04,157.64 406.3,157.6 C407.56,157.56 412.42,157.71 413.8,157.8 C415.18,157.89 419.21,158.37 420.1,158.5 C420.99,158.63 422.00,159.23 422.7,159.1 C423.40,158.97 426.22,157.33 427.1,157.2 C427.98,157.07 430.68,157.74 431.5,157.8 C432.32,157.86 434.67,158.30 435.3,157.8 C435.93,157.30 437.17,153.96 437.8,152.8 C438.43,151.64 440.78,146.81 441.6,146.2 C442.97,145.18 444.23,146.82 446,146.7 C447.77,146.58 450.02,146.48 452.2,145.5 C454.38,144.52 456.80,142.45 459.1,140.8 C461.40,139.15 464.07,137.03 466,135.6 C467.93,134.17 468.95,133.55 470.7,132.2 C472.45,130.85 474.58,128.57 476.5,127.5 C478.42,126.43 480.28,126.12 482.2,125.8 C484.12,125.48 485.70,125.32 488,125.6 C490.30,125.88 494.00,126.95 496,127.5 C498.00,128.05 497.80,126.93 500,128.9 C502.20,130.87 506.12,135.07 509.2,139.3 C512.28,143.53 515.42,149.30 518.5,154.3 C521.58,159.30 524.62,164.50 527.7,169.3 C530.78,174.10 533.92,179.07 537,183.1 C540.08,187.13 542.75,190.42 546.2,193.5 C549.65,196.58 553.85,199.55 557.7,201.6 C561.55,203.65 565.07,204.72 569.3,205.8 C573.53,206.88 577.98,207.60 583.1,208.1 C588.22,208.60 594.18,208.65 600,208.8 C605.82,208.95 615.00,208.97 618,209" stroke="#4a86e8"/>
</g>
<rect x="378.5" y="38.6" width="240.10" height="170.40" fill="none" stroke="#000" stroke-width="1.7"/>
<line x1="618.60" y1="209.00" x2="624.70" y2="209.00" stroke="#000" stroke-width="1.7" />
<text transform="translate(628.20,213.60) scale(1,1.02)" font-size="15.8" text-anchor="start" >0.0</text>
<line x1="618.60" y1="191.96" x2="621.90" y2="191.96" stroke="#000" stroke-width="1.7" />
<line x1="618.60" y1="174.92" x2="624.70" y2="174.92" stroke="#000" stroke-width="1.7" />
<text transform="translate(628.20,179.52) scale(1,1.02)" font-size="15.8" text-anchor="start" >0.5</text>
<line x1="618.60" y1="157.88" x2="621.90" y2="157.88" stroke="#000" stroke-width="1.7" />
<line x1="618.60" y1="140.84" x2="624.70" y2="140.84" stroke="#000" stroke-width="1.7" />
<text transform="translate(628.20,145.44) scale(1,1.02)" font-size="15.8" text-anchor="start" >1.0</text>
<line x1="618.60" y1="123.80" x2="621.90" y2="123.80" stroke="#000" stroke-width="1.7" />
<line x1="618.60" y1="106.76" x2="624.70" y2="106.76" stroke="#000" stroke-width="1.7" />
<text transform="translate(628.20,111.36) scale(1,1.02)" font-size="15.8" text-anchor="start" >1.5</text>
<line x1="618.60" y1="89.72" x2="621.90" y2="89.72" stroke="#000" stroke-width="1.7" />
<line x1="618.60" y1="72.68" x2="624.70" y2="72.68" stroke="#000" stroke-width="1.7" />
<text transform="translate(628.20,77.28) scale(1,1.02)" font-size="15.8" text-anchor="start" >2.0</text>
<line x1="618.60" y1="55.64" x2="621.90" y2="55.64" stroke="#000" stroke-width="1.7" />
<line x1="618.60" y1="38.60" x2="624.70" y2="38.60" stroke="#000" stroke-width="1.7" />
<text transform="translate(628.60,44.50) scale(1,1.02)" font-size="15.2" text-anchor="start" >2.5×10</text>
<text transform="translate(675.60,37.90) scale(1,1.02)" font-size="11" text-anchor="start" >4</text>
<line x1="378.50" y1="209.00" x2="378.50" y2="216.00" stroke="#000" stroke-width="1.7" />
<line x1="414.64" y1="209.00" x2="414.64" y2="212.60" stroke="#000" stroke-width="1.7" />
<line x1="435.78" y1="209.00" x2="435.78" y2="212.60" stroke="#000" stroke-width="1.7" />
<line x1="450.78" y1="209.00" x2="450.78" y2="212.60" stroke="#000" stroke-width="1.7" />
<line x1="462.41" y1="209.00" x2="462.41" y2="212.60" stroke="#000" stroke-width="1.7" />
<line x1="471.92" y1="209.00" x2="471.92" y2="212.60" stroke="#000" stroke-width="1.7" />
<line x1="479.95" y1="209.00" x2="479.95" y2="212.60" stroke="#000" stroke-width="1.7" />
<line x1="486.92" y1="209.00" x2="486.92" y2="212.60" stroke="#000" stroke-width="1.7" />
<line x1="493.06" y1="209.00" x2="493.06" y2="212.60" stroke="#000" stroke-width="1.7" />
<line x1="498.55" y1="209.00" x2="498.55" y2="216.00" stroke="#000" stroke-width="1.7" />
<line x1="534.69" y1="209.00" x2="534.69" y2="212.60" stroke="#000" stroke-width="1.7" />
<line x1="555.83" y1="209.00" x2="555.83" y2="212.60" stroke="#000" stroke-width="1.7" />
<line x1="570.83" y1="209.00" x2="570.83" y2="212.60" stroke="#000" stroke-width="1.7" />
<line x1="582.46" y1="209.00" x2="582.46" y2="212.60" stroke="#000" stroke-width="1.7" />
<line x1="591.97" y1="209.00" x2="591.97" y2="212.60" stroke="#000" stroke-width="1.7" />
<line x1="600.00" y1="209.00" x2="600.00" y2="212.60" stroke="#000" stroke-width="1.7" />
<line x1="606.97" y1="209.00" x2="606.97" y2="212.60" stroke="#000" stroke-width="1.7" />
<line x1="613.11" y1="209.00" x2="613.11" y2="212.60" stroke="#000" stroke-width="1.7" />
<line x1="618.60" y1="209.00" x2="618.60" y2="216.00" stroke="#000" stroke-width="1.7" />
<text transform="translate(378.50,233.00) scale(1,1.02)" font-size="15.8" text-anchor="middle" >10</text>
<text transform="translate(498.55,233.00) scale(1,1.02)" font-size="15.8" text-anchor="middle" >100</text>
<text transform="translate(618.60,233.00) scale(1,1.02)" font-size="15.8" text-anchor="middle" >1000</text>
<text transform="translate(477.20,249.80) scale(1,1.02)" font-size="14.6" text-anchor="start" ><tspan font-style="italic">d</tspan><tspan dy="3.3" font-size="10" font-style="italic">p</tspan><tspan dy="-3.3">(nm)</tspan></text>
<text transform="translate(381.30,55.60) scale(1,1.02)" font-size="16" text-anchor="start" >(c)</text>
<text transform="translate(677.3,123.2) rotate(-90) scale(1,1.02)" font-size="15.9" text-anchor="middle"><tspan font-style="italic">d</tspan>N/<tspan font-style="italic">d</tspan>logd<tspan dy="4" font-size="10.7" font-style="italic">p</tspan><tspan dy="-4"> (cm</tspan><tspan dy="-6" font-size="11">-3</tspan><tspan dy="6">)</tspan></text>
<line x1="375.10" y1="8.80" x2="389.10" y2="8.80" stroke="#f0444c" stroke-width="2.1" />
<line x1="395.30" y1="8.80" x2="398.20" y2="8.80" stroke="#f0444c" stroke-width="2.1" />
<text transform="translate(405.30,13.70) scale(1,1.02)" font-size="14.5" text-anchor="start" >2020 normal</text>
<line x1="375.10" y1="26.90" x2="389.10" y2="26.90" stroke="#4a86e8" stroke-width="2.1" />
<line x1="395.30" y1="26.90" x2="398.20" y2="26.90" stroke="#4a86e8" stroke-width="2.1" />
<text transform="translate(405.30,31.80) scale(1,1.02)" font-size="14.5" text-anchor="start" >2022 normal</text>
<line x1="493.90" y1="8.80" x2="521.20" y2="8.80" stroke="#f0444c" stroke-width="2.1" />
<text transform="translate(524.30,13.70) scale(1,1.02)" font-size="14.5" text-anchor="start" >2020 lockdown</text>
<line x1="493.90" y1="26.90" x2="521.20" y2="26.90" stroke="#4a86e8" stroke-width="2.1" />
<text transform="translate(524.30,31.80) scale(1,1.02)" font-size="14.5" text-anchor="start" >2022 lockdown</text>
<g stroke="#ff1a1a" stroke-width="1.5" fill="none">
<line x1="393.70" y1="275.99" x2="393.70" y2="312.48" stroke="#ff1a1a" stroke-width="1.5" />
<line x1="393.70" y1="388.65" x2="393.70" y2="400.81" stroke="#ff1a1a" stroke-width="1.5" />
<line x1="388.45" y1="275.99" x2="398.95" y2="275.99" stroke="#ff1a1a" stroke-width="1.5" />
<line x1="388.45" y1="400.81" x2="398.95" y2="400.81" stroke="#ff1a1a" stroke-width="1.5" />
<rect x="383.70" y="312.48" width="20" height="76.17" />
<line x1="383.70" y1="356.43" x2="403.70" y2="356.43" stroke="#ff1a1a" stroke-width="1.5" />
<rect x="392.30" y="345.64" width="2.8" height="2.8" stroke-width="0.9"/>
</g>
<g stroke="#ff1a1a" stroke-width="1.15" fill="none">
<line x1="423.50" y1="367.74" x2="423.50" y2="370.09" stroke="#ff1a1a" stroke-width="1.15" />
<line x1="423.50" y1="376.28" x2="423.50" y2="384.17" stroke="#ff1a1a" stroke-width="1.15" />
<line x1="418.25" y1="367.74" x2="428.75" y2="367.74" stroke="#ff1a1a" stroke-width="1.15" />
<line x1="418.25" y1="384.17" x2="428.75" y2="384.17" stroke="#ff1a1a" stroke-width="1.15" />
<rect x="413.50" y="370.09" width="20" height="6.19" fill="#ff1a1a" fill-opacity="0.18"/>
<line x1="413.50" y1="373.29" x2="433.50" y2="373.29" stroke="#ff1a1a" stroke-width="0.8" />
<rect x="422.10" y="372.53" width="2.8" height="2.8" stroke-width="0.8"/>
</g>
<g stroke="#ff1a1a" stroke-width="1.5" fill="none">
<line x1="453.70" y1="332.96" x2="453.70" y2="360.70" stroke="#ff1a1a" stroke-width="1.5" />
<line x1="453.70" y1="407.22" x2="453.70" y2="421.30" stroke="#ff1a1a" stroke-width="1.5" />
<line x1="448.45" y1="332.96" x2="458.95" y2="332.96" stroke="#ff1a1a" stroke-width="1.5" />
<line x1="448.45" y1="421.30" x2="458.95" y2="421.30" stroke="#ff1a1a" stroke-width="1.5" />
<rect x="443.70" y="360.70" width="20" height="46.52" />
<line x1="443.70" y1="391.43" x2="463.70" y2="391.43" stroke="#ff1a1a" stroke-width="1.5" />
<rect x="452.30" y="382.77" width="2.8" height="2.8" stroke-width="0.9"/>
</g>
<g stroke="#ff1a1a" stroke-width="1.15" fill="none">
<line x1="483.50" y1="386.09" x2="483.50" y2="387.58" stroke="#ff1a1a" stroke-width="1.15" />
<line x1="483.50" y1="393.56" x2="483.50" y2="394.63" stroke="#ff1a1a" stroke-width="1.15" />
<line x1="478.25" y1="386.09" x2="488.75" y2="386.09" stroke="#ff1a1a" stroke-width="1.15" />
<line x1="478.25" y1="394.63" x2="488.75" y2="394.63" stroke="#ff1a1a" stroke-width="1.15" />
<rect x="473.50" y="387.58" width="20" height="5.97" fill="#ff1a1a" fill-opacity="0.18"/>
<line x1="473.50" y1="390.57" x2="493.50" y2="390.57" stroke="#ff1a1a" stroke-width="0.8" />
<rect x="482.10" y="389.39" width="2.8" height="2.8" stroke-width="0.8"/>
</g>
<g stroke="#4a86ee" stroke-width="1.5" fill="none">
<line x1="513.70" y1="387.16" x2="513.70" y2="398.68" stroke="#4a86ee" stroke-width="1.5" />
<line x1="513.70" y1="418.95" x2="513.70" y2="422.15" stroke="#4a86ee" stroke-width="1.5" />
<line x1="508.45" y1="387.16" x2="518.95" y2="387.16" stroke="#4a86ee" stroke-width="1.5" />
<line x1="508.45" y1="422.15" x2="518.95" y2="422.15" stroke="#4a86ee" stroke-width="1.5" />
<rect x="503.70" y="398.68" width="20" height="20.27" />
<line x1="503.70" y1="411.06" x2="523.70" y2="411.06" stroke="#4a86ee" stroke-width="1.5" />
<rect x="512.30" y="404.75" width="2.8" height="2.8" stroke-width="0.9"/>
</g>
<g stroke="#4a86ee" stroke-width="1.15" fill="none">
<line x1="543.50" y1="411.27" x2="543.50" y2="412.55" stroke="#4a86ee" stroke-width="1.15" />
<line x1="543.50" y1="415.54" x2="543.50" y2="415.96" stroke="#4a86ee" stroke-width="1.15" />
<line x1="538.25" y1="411.27" x2="548.75" y2="411.27" stroke="#4a86ee" stroke-width="1.15" />
<line x1="538.25" y1="415.96" x2="548.75" y2="415.96" stroke="#4a86ee" stroke-width="1.15" />
<rect x="533.50" y="412.55" width="20" height="2.99" fill="#4a86ee" fill-opacity="0.18"/>
<line x1="533.50" y1="414.04" x2="553.50" y2="414.04" stroke="#4a86ee" stroke-width="0.8" />
<rect x="542.10" y="412.43" width="2.8" height="2.8" stroke-width="0.8"/>
</g>
<g stroke="#4a86ee" stroke-width="1.5" fill="none">
<line x1="573.70" y1="408.71" x2="573.70" y2="414.90" stroke="#4a86ee" stroke-width="1.5" />
<line x1="573.70" y1="427.70" x2="573.70" y2="429.83" stroke="#4a86ee" stroke-width="1.5" />
<line x1="568.45" y1="408.71" x2="578.95" y2="408.71" stroke="#4a86ee" stroke-width="1.5" />
<line x1="568.45" y1="429.83" x2="578.95" y2="429.83" stroke="#4a86ee" stroke-width="1.5" />
<rect x="563.70" y="414.90" width="20" height="12.80" />
<line x1="563.70" y1="424.71" x2="583.70" y2="424.71" stroke="#4a86ee" stroke-width="1.5" />
<rect x="572.30" y="419.47" width="2.8" height="2.8" stroke-width="0.9"/>
</g>
<g stroke="#4a86ee" stroke-width="1.15" fill="none">
<line x1="603.50" y1="414.68" x2="603.50" y2="414.90" stroke="#4a86ee" stroke-width="1.15" />
<line x1="603.50" y1="416.18" x2="603.50" y2="416.39" stroke="#4a86ee" stroke-width="1.15" />
<line x1="598.25" y1="414.68" x2="608.75" y2="414.68" stroke="#4a86ee" stroke-width="1.15" />
<line x1="598.25" y1="416.39" x2="608.75" y2="416.39" stroke="#4a86ee" stroke-width="1.15" />
<rect x="593.50" y="414.90" width="20" height="1.28" fill="#4a86ee" fill-opacity="0.18"/>
<line x1="593.50" y1="415.54" x2="613.50" y2="415.54" stroke="#4a86ee" stroke-width="0.8" />
<rect x="602.10" y="414.14" width="2.8" height="2.8" stroke-width="0.8"/>
</g>
<rect x="378.5" y="260.2" width="240.30" height="170.70" fill="none" stroke="#000" stroke-width="1.7"/>
<line x1="373.20" y1="430.90" x2="378.50" y2="430.90" stroke="#000" stroke-width="1.7" />
<text transform="translate(369.50,436.40) scale(1,1.02)" font-size="15.8" text-anchor="end" >0</text>
<line x1="375.20" y1="409.56" x2="378.50" y2="409.56" stroke="#000" stroke-width="1.7" />
<line x1="373.20" y1="388.22" x2="378.50" y2="388.22" stroke="#000" stroke-width="1.7" />
<text transform="translate(369.50,393.72) scale(1,1.02)" font-size="15.8" text-anchor="end" >2</text>
<line x1="375.20" y1="366.89" x2="378.50" y2="366.89" stroke="#000" stroke-width="1.7" />
<line x1="373.20" y1="345.55" x2="378.50" y2="345.55" stroke="#000" stroke-width="1.7" />
<text transform="translate(369.50,351.05) scale(1,1.02)" font-size="15.8" text-anchor="end" >4</text>
<line x1="375.20" y1="324.21" x2="378.50" y2="324.21" stroke="#000" stroke-width="1.7" />
<line x1="373.20" y1="302.88" x2="378.50" y2="302.88" stroke="#000" stroke-width="1.7" />
<text transform="translate(369.50,308.38) scale(1,1.02)" font-size="15.8" text-anchor="end" >6</text>
<line x1="375.20" y1="281.54" x2="378.50" y2="281.54" stroke="#000" stroke-width="1.7" />
<line x1="373.20" y1="260.20" x2="378.50" y2="260.20" stroke="#000" stroke-width="1.7" />
<text transform="translate(369.50,265.70) scale(1,1.02)" font-size="15.8" text-anchor="end" >8</text>
<line x1="408.50" y1="430.90" x2="408.50" y2="435.90" stroke="#000" stroke-width="1.7" />
<text transform="translate(408.50,450.90) scale(1,1.02)" font-size="14.4" text-anchor="middle" >2020</text>
<text transform="translate(408.50,468.80) scale(1,1.02)" font-size="14.3" text-anchor="middle" >normal</text>
<line x1="468.50" y1="430.90" x2="468.50" y2="435.90" stroke="#000" stroke-width="1.7" />
<text transform="translate(468.50,450.90) scale(1,1.02)" font-size="14.4" text-anchor="middle" >2020</text>
<text transform="translate(468.50,468.80) scale(1,1.02)" font-size="14.3" text-anchor="middle" >lockdown</text>
<line x1="528.50" y1="430.90" x2="528.50" y2="435.90" stroke="#000" stroke-width="1.7" />
<text transform="translate(528.50,450.90) scale(1,1.02)" font-size="14.4" text-anchor="middle" >2022</text>
<text transform="translate(528.50,468.80) scale(1,1.02)" font-size="14.3" text-anchor="middle" >normal</text>
<line x1="588.50" y1="430.90" x2="588.50" y2="435.90" stroke="#000" stroke-width="1.7" />
<text transform="translate(588.50,450.90) scale(1,1.02)" font-size="14.4" text-anchor="middle" >2022</text>
<text transform="translate(588.50,468.80) scale(1,1.02)" font-size="14.3" text-anchor="middle" >lockdown</text>
<text transform="translate(381.30,276.90) scale(1,1.02)" font-size="16" text-anchor="start" >(d)</text>
<text transform="translate(351.5,344.9) rotate(-90) scale(1,1.02)" font-size="16" text-anchor="middle"><tspan font-style="italic">S</tspan><tspan dy="4" font-size="11" font-style="italic">vehicle</tspan><tspan dy="-4"> (cm</tspan><tspan dy="-6.3" font-size="11.2">-3</tspan><tspan dy="6.3"> s</tspan><tspan dy="-6.3" font-size="11.2">-1</tspan><tspan dy="6.3">)</tspan></text>
<rect x="464.2" y="266" width="35.8" height="16.8" fill="none" stroke="#ff1a1a" stroke-width="1.6"/>
<rect x="464.2" y="285.2" width="35.8" height="17.8" fill="#f7dcdc" stroke="#ff1a1a" stroke-width="1.6"/>
<text transform="translate(504.40,279.70) scale(1,1.02)" font-size="16.1" text-anchor="start" >original data</text>
<text transform="translate(504.40,299.00) scale(1,1.02)" font-size="16.1" text-anchor="start" >deweather data</text>
</svg></body></html>
